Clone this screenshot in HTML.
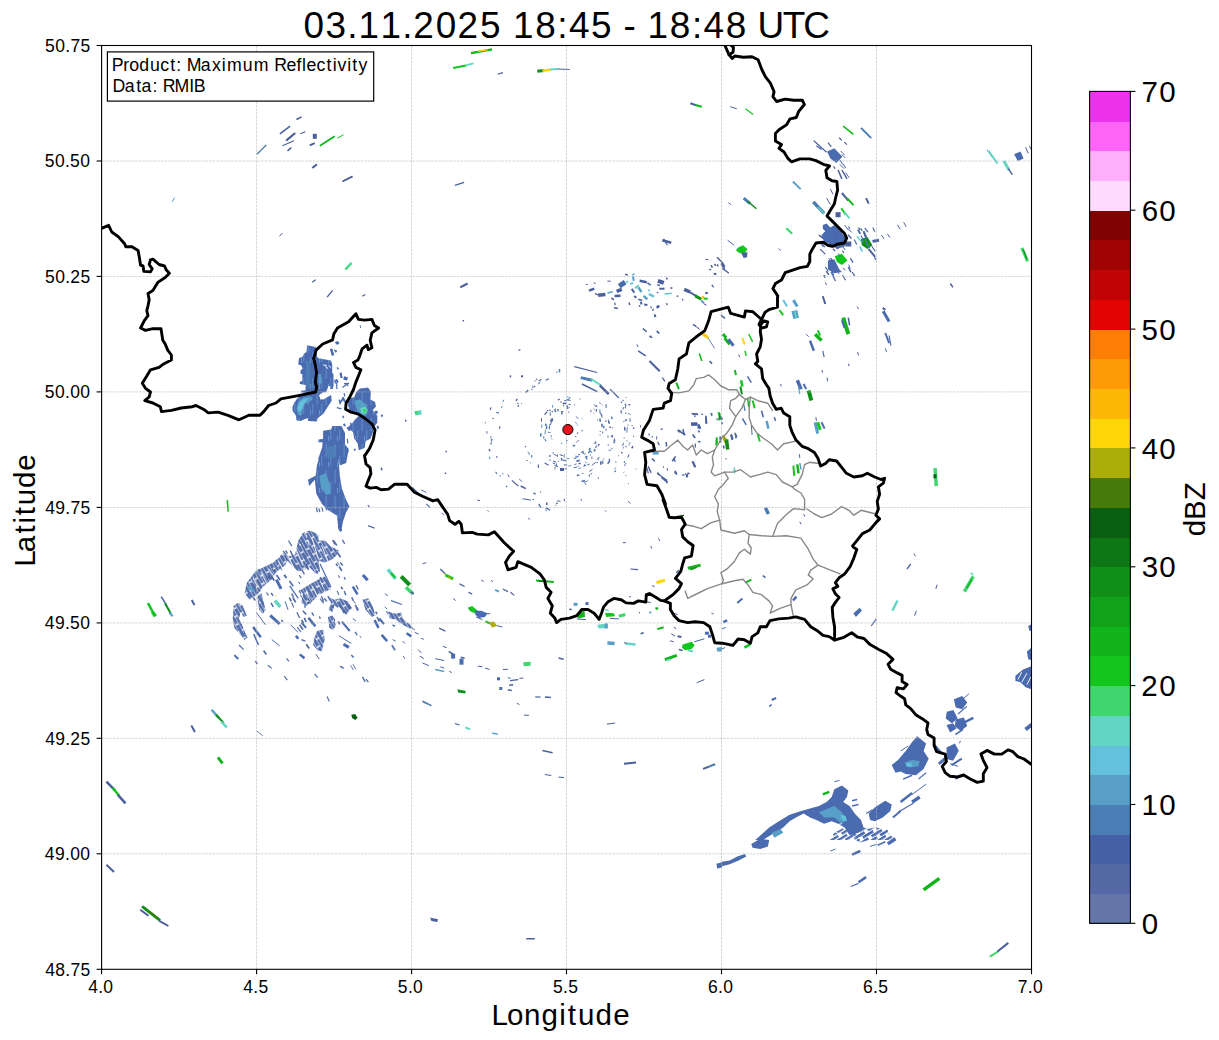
<!DOCTYPE html>
<html><head><meta charset="utf-8"><title>Radar</title>
<style>html,body{margin:0;padding:0;background:#fff;}body{width:1219px;height:1040px;overflow:hidden;}svg{display:block;}text{font-family:"Liberation Sans",sans-serif;fill:#000;}</style>
</head><body>
<svg width="1219" height="1040" viewBox="0 0 1219 1040">
<rect x="0" y="0" width="1219" height="1040" fill="#fff"/>
<defs><clipPath id="ax"><rect x="101.6" y="45.5" width="929.9" height="923.8"/></clipPath>
<pattern id="pSW" patternUnits="userSpaceOnUse" width="15.00" height="6.60" patternTransform="rotate(60.0)"><rect x="0" y="0" width="13.60" height="2.85" fill="#5570ad"/><rect x="7.50" y="3.30" width="7.50" height="2.85" fill="#5570ad"/><rect x="0" y="3.30" width="6.10" height="2.85" fill="#5570ad"/></pattern>
<pattern id="pSE" patternUnits="userSpaceOnUse" width="26.00" height="7.20" patternTransform="rotate(-32.0)"><rect x="0" y="0" width="25.00" height="3.35" fill="#4b6bb0"/><rect x="13.00" y="3.60" width="13.00" height="3.35" fill="#4b6bb0"/><rect x="0" y="3.60" width="12.00" height="3.35" fill="#4b6bb0"/></pattern>
<pattern id="pSE2" patternUnits="userSpaceOnUse" width="16.00" height="7.20" patternTransform="rotate(-32.0)"><rect x="0" y="0" width="12.00" height="2.30" fill="#4b6bb0"/><rect x="8.00" y="3.60" width="8.00" height="2.30" fill="#4b6bb0"/><rect x="0" y="3.60" width="4.00" height="2.30" fill="#4b6bb0"/></pattern>
<pattern id="pV" patternUnits="userSpaceOnUse" width="9" height="26"><rect width="9" height="26" fill="#4b6bb0"/><rect x="1.5" y="2" width="1.3" height="13" fill="#5a86c4"/><rect x="6" y="14" width="1.3" height="10" fill="#5a86c4"/><rect x="4" y="20" width="0.8" height="5" fill="#6c9fd6"/></pattern>
</defs>
<g clip-path="url(#ax)" shape-rendering="auto">
<path d="M256.9 154.2L266.3 145.0" stroke="#4c7db5" stroke-width="1.3" fill="none"/>
<path d="M279.9 133.8L290.1 126.1" stroke="#4a5f9c" stroke-width="1.6" fill="none"/>
<path d="M296.4 119.5L301.6 116.9" stroke="#4a5f9c" stroke-width="1.6" fill="none"/>
<path d="M286.2 140.7L295.2 133.0" stroke="#4a5f9c" stroke-width="2.2" fill="none"/>
<path d="M282.4 145.8L293.9 140.7" stroke="#4a5f9c" stroke-width="1.2" fill="none"/>
<path d="M287.5 150.9L291.3 147.6" stroke="#4a5f9c" stroke-width="1.4" fill="none"/>
<path d="M300.3 133.8L305.4 131.7" stroke="#4a5f9c" stroke-width="1.2" fill="none"/>
<rect x="312.8" y="133.8" width="4.0" height="5.0" fill="#4a5f9c"/>
<path d="M309.7 145.3L314.8 143.2" stroke="#4a5f9c" stroke-width="1.8" fill="none"/>
<path d="M319.9 145.8L334.7 136.3" stroke="#12b41c" stroke-width="1.8" fill="none"/>
<path d="M337.3 138.1L343.6 134.8" stroke="#12c61d" stroke-width="1.0" fill="none"/>
<path d="M312.3 168.0L316.9 164.4" stroke="#4a5f9c" stroke-width="2.0" fill="none"/>
<path d="M342.4 181.5L352.6 176.4" stroke="#4a5f9c" stroke-width="1.8" fill="none"/>
<path d="M172.2 201.9L174.5 197.6" stroke="#589fc8" stroke-width="1.0" fill="none"/>
<path d="M279.4 236.3L282.4 233.0" stroke="#4a5f9c" stroke-width="1.0" fill="none"/>
<path d="M345.4 269.5L351.3 263.1" stroke="#40d56d" stroke-width="2.4" fill="none"/>
<path d="M347.0 267.0L351.6 262.4" stroke="#63d6c3" stroke-width="1.2" fill="none"/>
<path d="M312.3 282.3L315.6 279.7" stroke="#4a5f9c" stroke-width="1.2" fill="none"/>
<path d="M327.1 297.1L332.7 290.4" stroke="#4a5f9c" stroke-width="1.4" fill="none"/>
<path d="M362.3 296.3L365.3 294.5" stroke="#4a5f9c" stroke-width="1.2" fill="none"/>
<path d="M471.0 53.2L492.1 49.3" stroke="#12b41c" stroke-width="2.2" fill="none"/>
<path d="M477.8 51.4L487.5 49.8" stroke="#fdd607" stroke-width="1.2" fill="none"/>
<path d="M453.1 68.0L465.9 65.4" stroke="#12c61d" stroke-width="2.0" fill="none"/>
<path d="M465.9 65.4L473.5 63.4" stroke="#63d6c3" stroke-width="2.0" fill="none"/>
<path d="M497.7 74.3L502.8 72.6" stroke="#4a5f9c" stroke-width="1.2" fill="none"/>
<path d="M537.3 71.3L544.2 70.5" stroke="#0f8f18" stroke-width="3.0" fill="none"/>
<path d="M542.4 70.8L550.6 69.7" stroke="#fdd607" stroke-width="2.6" fill="none"/>
<path d="M550.0 69.5L558.2 69.0" stroke="#63d6c3" stroke-width="2.2" fill="none"/>
<path d="M557.7 69.0L569.7 69.5" stroke="#4a5f9c" stroke-width="1.0" fill="none"/>
<path d="M690.4 103.2L696.0 105.2" stroke="#4a5f9c" stroke-width="2.0" fill="none"/>
<path d="M695.5 105.0L701.8 106.7" stroke="#12b41c" stroke-width="2.0" fill="none"/>
<path d="M454.9 185.3L464.1 182.3" stroke="#4a5f9c" stroke-width="1.4" fill="none"/>
<path d="M460.2 287.4L467.6 283.5" stroke="#4a5f9c" stroke-width="2.2" fill="none"/>
<path d="M662.3 240.2L671.2 242.7" stroke="#4a5f9c" stroke-width="2.6" fill="none"/>
<path d="M663.6 238.9L667.4 245.3" stroke="#4a5f9c" stroke-width="1.2" fill="none"/>
<path d="M589.0 290.7L594.3 288.7" stroke="#4a5f9c" stroke-width="2.5" fill="none"/>
<path d="M585.8 284.4L587.7 284.4" stroke="#4a5f9c" stroke-width="1.0" fill="none"/>
<path d="M593.6 282.8L595.6 283.5" stroke="#4a5f9c" stroke-width="1.0" fill="none"/>
<path d="M598.2 295.3L605.4 294.6" stroke="#4a5f9c" stroke-width="3.5" fill="none"/>
<path d="M594.9 293.6L598.2 294.9" stroke="#4a5f9c" stroke-width="1.2" fill="none"/>
<path d="M607.4 281.2L610.7 281.2" stroke="#4a5f9c" stroke-width="1.0" fill="none"/>
<path d="M607.4 293.1L612.7 291.7" stroke="#589fc8" stroke-width="1.5" fill="none"/>
<path d="M616.6 291.3L621.8 289.4" stroke="#4a5f9c" stroke-width="3.5" fill="none"/>
<path d="M619.2 286.1L625.1 282.2" stroke="#4b6bb0" stroke-width="5.0" fill="none"/>
<path d="M625.8 282.2L628.4 281.5" stroke="#63d6c3" stroke-width="1.5" fill="none"/>
<path d="M614.6 295.9L620.5 295.7" stroke="#4a5f9c" stroke-width="2.5" fill="none"/>
<path d="M611.3 297.9L614.0 299.9" stroke="#4a5f9c" stroke-width="1.5" fill="none"/>
<path d="M614.6 302.5L615.3 305.1" stroke="#4a5f9c" stroke-width="1.2" fill="none"/>
<path d="M614.0 307.8L617.9 308.4" stroke="#4a5f9c" stroke-width="1.5" fill="none"/>
<path d="M629.1 302.5L629.7 305.1" stroke="#4a5f9c" stroke-width="1.5" fill="none"/>
<path d="M625.1 274.3L627.8 274.9" stroke="#4a5f9c" stroke-width="1.5" fill="none"/>
<path d="M633.0 273.9L633.8 274.9" stroke="#589fc8" stroke-width="3.0" fill="none"/>
<path d="M633.0 276.3L633.7 280.8" stroke="#589fc8" stroke-width="2.0" fill="none"/>
<path d="M630.4 284.1L633.0 282.8" stroke="#63c1dc" stroke-width="2.0" fill="none"/>
<path d="M631.7 288.7L634.3 292.7" stroke="#4a5f9c" stroke-width="2.0" fill="none"/>
<path d="M635.0 288.1L638.9 285.4" stroke="#63d6c3" stroke-width="2.0" fill="none"/>
<path d="M638.3 287.4L641.5 292.0" stroke="#589fc8" stroke-width="2.5" fill="none"/>
<path d="M639.6 280.8L646.8 282.2" stroke="#4a5f9c" stroke-width="2.5" fill="none"/>
<path d="M647.4 282.8L650.7 285.2" stroke="#4a5f9c" stroke-width="1.5" fill="none"/>
<path d="M634.3 295.9L636.3 297.9" stroke="#4a5f9c" stroke-width="2.0" fill="none"/>
<path d="M638.3 299.2L642.2 300.5" stroke="#4a5f9c" stroke-width="1.5" fill="none"/>
<path d="M640.9 301.8L641.5 304.5" stroke="#4a5f9c" stroke-width="2.0" fill="none"/>
<path d="M638.9 306.4L640.2 305.8" stroke="#4a5f9c" stroke-width="1.5" fill="none"/>
<path d="M643.5 295.9L647.4 299.2" stroke="#589fc8" stroke-width="2.5" fill="none"/>
<path d="M648.8 294.0L654.0 296.6" stroke="#63c1dc" stroke-width="2.5" fill="none"/>
<path d="M648.5 289.4L649.4 291.3" stroke="#63c1dc" stroke-width="1.5" fill="none"/>
<path d="M644.2 304.5L647.4 305.1" stroke="#4a5f9c" stroke-width="2.0" fill="none"/>
<path d="M650.7 306.4L651.4 308.4" stroke="#4a5f9c" stroke-width="1.2" fill="none"/>
<path d="M652.0 310.4L654.0 309.1" stroke="#4a5f9c" stroke-width="1.2" fill="none"/>
<path d="M654.7 315.0L655.3 316.9" stroke="#4a5f9c" stroke-width="2.0" fill="none"/>
<path d="M656.6 307.8L659.3 305.8" stroke="#4a5f9c" stroke-width="2.5" fill="none"/>
<path d="M657.9 280.8L663.8 282.8" stroke="#4a5f9c" stroke-width="4.0" fill="none"/>
<path d="M666.5 277.6L667.1 279.5" stroke="#4a5f9c" stroke-width="1.5" fill="none"/>
<path d="M657.3 284.8L659.9 285.4" stroke="#4a5f9c" stroke-width="1.5" fill="none"/>
<path d="M659.3 288.7L664.5 288.7" stroke="#4a5f9c" stroke-width="2.0" fill="none"/>
<path d="M670.4 287.8L672.4 288.3" stroke="#4a5f9c" stroke-width="1.5" fill="none"/>
<path d="M657.3 292.0L657.9 293.3" stroke="#4a5f9c" stroke-width="1.5" fill="none"/>
<path d="M664.5 294.0L671.7 293.3" stroke="#63c1dc" stroke-width="1.5" fill="none"/>
<path d="M666.5 303.2L667.1 305.1" stroke="#4a5f9c" stroke-width="1.5" fill="none"/>
<path d="M676.6 295.9L678.3 296.2" stroke="#4a5f9c" stroke-width="1.5" fill="none"/>
<path d="M682.2 298.8L683.1 300.5" stroke="#4a5f9c" stroke-width="1.2" fill="none"/>
<path d="M684.2 289.4L690.1 292.0" stroke="#4a5f9c" stroke-width="3.5" fill="none"/>
<path d="M689.4 292.0L696.0 295.9" stroke="#4a5f9c" stroke-width="2.0" fill="none"/>
<path d="M695.3 295.9L701.3 299.2" stroke="#0f8f18" stroke-width="3.0" fill="none"/>
<path d="M701.9 296.6L703.9 298.6" stroke="#fdd607" stroke-width="2.5" fill="none"/>
<path d="M702.6 295.9L703.4 297.3" stroke="#fdb805" stroke-width="2.0" fill="none"/>
<path d="M703.9 298.6L707.8 298.8" stroke="#12c61d" stroke-width="2.0" fill="none"/>
<path d="M701.3 300.5L703.9 303.2" stroke="#589fc8" stroke-width="2.0" fill="none"/>
<path d="M705.2 293.3L707.8 292.7" stroke="#4a5f9c" stroke-width="2.0" fill="none"/>
<path d="M703.9 303.8L706.5 305.1" stroke="#4a5f9c" stroke-width="1.0" fill="none"/>
<path d="M705.2 259.2L708.5 259.8" stroke="#4a5f9c" stroke-width="1.0" fill="none"/>
<path d="M717.0 257.2L722.3 262.5" stroke="#4a5f9c" stroke-width="1.5" fill="none"/>
<path d="M721.6 263.1L724.2 267.1" stroke="#4a5f9c" stroke-width="3.0" fill="none"/>
<path d="M722.3 268.4L728.8 273.0" stroke="#4a5f9c" stroke-width="1.2" fill="none"/>
<path d="M711.1 265.1L712.4 267.7" stroke="#4a5f9c" stroke-width="1.5" fill="none"/>
<path d="M714.4 263.8L715.7 265.8" stroke="#4a5f9c" stroke-width="1.5" fill="none"/>
<path d="M717.0 264.4L718.3 266.4" stroke="#4a5f9c" stroke-width="1.5" fill="none"/>
<path d="M709.1 269.0L711.1 270.3" stroke="#4a5f9c" stroke-width="1.2" fill="none"/>
<path d="M713.7 273.6L716.3 274.3" stroke="#4a5f9c" stroke-width="2.0" fill="none"/>
<path d="M711.8 284.8L713.7 287.4" stroke="#4a5f9c" stroke-width="1.2" fill="none"/>
<path d="M642.8 328.8L646.8 331.4" stroke="#4a5f9c" stroke-width="1.2" fill="none"/>
<path d="M656.6 331.4L659.3 333.3" stroke="#4a5f9c" stroke-width="1.5" fill="none"/>
<path d="M649.4 336.0L651.4 337.9" stroke="#4a5f9c" stroke-width="1.2" fill="none"/>
<path d="M693.4 324.8L696.0 326.1" stroke="#4a5f9c" stroke-width="1.5" fill="none"/>
<path d="M698.0 327.4L699.3 329.4" stroke="#4a5f9c" stroke-width="1.0" fill="none"/>
<path d="M720.9 315.0L724.9 318.3" stroke="#4a5f9c" stroke-width="1.5" fill="none"/>
<path d="M702.6 334.0L707.8 337.3" stroke="#fdd607" stroke-width="3.0" fill="none"/>
<path d="M703.9 335.3L707.2 336.6" stroke="#fdb805" stroke-width="1.5" fill="none"/>
<path d="M722.9 334.0L726.2 337.9" stroke="#12b41c" stroke-width="3.0" fill="none"/>
<path d="M730.2 106.7L736.8 108.8" stroke="#4a5f9c" stroke-width="1.0" fill="none"/>
<path d="M745.5 108.8L753.1 114.4" stroke="#12c61d" stroke-width="1.2" fill="none"/>
<path d="M843.2 126.1L853.4 134.3" stroke="#12b41c" stroke-width="1.5" fill="none"/>
<path d="M861.0 127.9L871.2 138.1" stroke="#4c7db5" stroke-width="2.0" fill="none"/>
<path d="M813.8 140.7L826.6 152.2" stroke="#4a5f9c" stroke-width="1.2" fill="none"/>
<path d="M816.4 145.8L821.5 149.6" stroke="#4a5f9c" stroke-width="1.2" fill="none"/>
<path d="M838.1 170.0L841.9 178.9" stroke="#4a5f9c" stroke-width="1.5" fill="none"/>
<path d="M841.9 170.0L847.0 178.9" stroke="#4a5f9c" stroke-width="1.5" fill="none"/>
<path d="M845.7 172.6L849.1 177.7" stroke="#4a5f9c" stroke-width="1.0" fill="none"/>
<path d="M792.9 181.5L800.6 189.1" stroke="#589fc8" stroke-width="2.0" fill="none"/>
<path d="M743.7 198.1L750.1 203.7" stroke="#4c7db5" stroke-width="3.0" fill="none"/>
<path d="M747.5 201.1L756.4 208.8" stroke="#0f8f18" stroke-width="1.5" fill="none"/>
<path d="M728.4 202.7L730.9 204.5" stroke="#4a5f9c" stroke-width="1.0" fill="none"/>
<path d="M813.3 201.9L824.1 213.4" stroke="#4c7db5" stroke-width="3.5" fill="none"/>
<path d="M817.7 207.0L824.1 213.4" stroke="#63d6c3" stroke-width="1.5" fill="none"/>
<path d="M841.9 193.0L848.3 200.6" stroke="#4a5f9c" stroke-width="2.0" fill="none"/>
<path d="M847.0 198.1L853.4 205.2" stroke="#12b41c" stroke-width="2.0" fill="none"/>
<path d="M866.1 198.1L868.7 203.7" stroke="#4a5f9c" stroke-width="2.0" fill="none"/>
<path d="M826.6 198.1L830.4 204.5" stroke="#4a5f9c" stroke-width="1.0" fill="none"/>
<path d="M830.4 189.1L833.0 194.2" stroke="#4a5f9c" stroke-width="1.0" fill="none"/>
<path d="M841.4 208.3L845.7 214.7" stroke="#12c61d" stroke-width="2.0" fill="none"/>
<path d="M844.5 212.1L849.6 218.5" stroke="#63d6c3" stroke-width="2.0" fill="none"/>
<path d="M786.3 228.2L792.2 233.8" stroke="#40d56d" stroke-width="2.0" fill="none"/>
<path d="M727.6 240.2L734.2 245.3" stroke="#4a5f9c" stroke-width="1.0" fill="none"/>
<path d="M778.6 248.6L780.7 250.4" stroke="#4a5f9c" stroke-width="1.0" fill="none"/>
<path d="M872.5 241.4L878.9 240.2" stroke="#4a5f9c" stroke-width="3.0" fill="none"/>
<path d="M857.2 236.3L861.0 241.4" stroke="#63d6c3" stroke-width="1.5" fill="none"/>
<path d="M868.7 249.1L875.1 256.8" stroke="#4a5f9c" stroke-width="2.0" fill="none"/>
<path d="M859.8 246.6L862.3 251.7" stroke="#63c1dc" stroke-width="1.5" fill="none"/>
<path d="M863.6 231.2L866.1 237.6" stroke="#4a5f9c" stroke-width="2.0" fill="none"/>
<path d="M881.5 235.1L884.0 238.9" stroke="#4a5f9c" stroke-width="1.0" fill="none"/>
<path d="M887.3 233.8L889.9 237.6" stroke="#4a5f9c" stroke-width="1.0" fill="none"/>
<path d="M897.5 224.9L900.1 229.2" stroke="#4a5f9c" stroke-width="1.0" fill="none"/>
<path d="M903.7 222.3L906.2 226.7" stroke="#4a5f9c" stroke-width="1.0" fill="none"/>
<path d="M818.9 235.1L824.1 238.9" stroke="#4a5f9c" stroke-width="1.5" fill="none"/>
<path d="M820.2 249.1L825.3 254.2" stroke="#4a5f9c" stroke-width="1.2" fill="none"/>
<path d="M848.3 267.0L850.8 272.1" stroke="#4a5f9c" stroke-width="1.5" fill="none"/>
<path d="M852.1 272.1L854.7 275.9" stroke="#4a5f9c" stroke-width="1.2" fill="none"/>
<path d="M833.0 275.9L835.5 281.0" stroke="#4a5f9c" stroke-width="1.2" fill="none"/>
<path d="M825.3 282.3L826.6 284.8" stroke="#4a5f9c" stroke-width="1.0" fill="none"/>
<path d="M822.8 296.3L825.3 304.0" stroke="#4a5f9c" stroke-width="2.0" fill="none"/>
<path d="M783.2 300.1L787.1 306.5" stroke="#63c1dc" stroke-width="2.0" fill="none"/>
<path d="M793.4 300.1L797.3 306.5" stroke="#589fc8" stroke-width="3.0" fill="none"/>
<path d="M722.0 261.9L724.6 269.5" stroke="#4a5f9c" stroke-width="1.5" fill="none"/>
<path d="M724.6 269.5L728.4 273.3" stroke="#4a5f9c" stroke-width="1.0" fill="none"/>
<path d="M950.3 283.5L952.9 287.4" stroke="#4a5f9c" stroke-width="1.5" fill="none"/>
<path d="M882.7 307.8L885.3 310.1" stroke="#4a5f9c" stroke-width="2.0" fill="none"/>
<path d="M857.2 306.5L858.5 309.1" stroke="#4a5f9c" stroke-width="1.0" fill="none"/>
<path d="M987.3 150.1L992.4 157.3" stroke="#4a5f9c" stroke-width="1.0" fill="none"/>
<path d="M988.6 150.9L997.5 163.6" stroke="#63d6c3" stroke-width="2.0" fill="none"/>
<path d="M1003.9 161.1L1009.0 170.0" stroke="#63d6c3" stroke-width="3.0" fill="none"/>
<path d="M1008.3 168.7L1012.3 174.6" stroke="#4a5f9c" stroke-width="1.5" fill="none"/>
<path d="M1025.6 147.1L1028.2 153.4" stroke="#4a5f9c" stroke-width="1.0" fill="none"/>
<path d="M1029.4 145.8L1031.2 149.6" stroke="#4a5f9c" stroke-width="1.0" fill="none"/>
<path d="M1021.8 247.8L1027.6 261.3" stroke="#40d56d" stroke-width="3.0" fill="none"/>
<path d="M1023.1 249.1L1026.9 259.3" stroke="#0f8f18" stroke-width="1.2" fill="none"/>
<path d="M827.1 151.6L834.3 148.3L842.4 156.7L836.3 162.9L830.4 158.5Z" fill="#4b6bb0"/>
<rect x="835.6" y="212.2" width="5.0" height="5.0" fill="#4a5f9c"/>
<path d="M737.8 247.8L742.9 245.3L747.5 249.1L744.5 253.7L739.3 252.9L736.0 250.4Z" fill="#12c61d"/>
<path d="M741.1 252.9L747.5 252.2L747.0 257.3L743.7 258.0Z" fill="#4a5f9c"/>
<path d="M822.8 224.9L826.6 223.6L830.4 227.4L834.3 224.9L839.4 228.7L843.2 235.1L847.0 238.9L844.5 246.6L836.8 249.1L830.4 244.0L824.1 241.4L821.5 235.1L825.3 231.2L822.8 228.7Z" fill="#4b6bb0"/>
<rect x="845.3" y="241.5" width="6.0" height="5.0" fill="#4a5f9c"/>
<path d="M861.0 238.9L867.4 236.9L872.5 245.3L867.4 249.1L861.8 245.3Z" fill="#0f8f18"/>
<path d="M834.8 256.2L841.9 253.7L847.5 260.6L841.9 264.9L836.8 261.9Z" fill="#12c61d"/>
<path d="M827.9 260.6L834.3 259.3L839.4 269.5L841.9 272.1L834.3 273.3L827.9 269.5Z" fill="#4b6bb0"/>
<path d="M1014.1 154.2L1020.5 151.6L1023.6 158.5L1017.9 161.1Z" fill="#4b6bb0"/>
<path d="M307.2 345.2L313.4 346.4L316.3 347.6L317.1 357.1L318.7 358.3L331.0 360.4L332.2 364.5L332.2 372.7L333.5 374.3L333.5 385.8L332.7 389.1L330.2 389.1L330.2 386.6L328.6 385.8L326.1 392.3L322.8 392.3L321.2 394.8L317.9 394.8L301.1 392.3L301.1 390.7L305.6 390.3L305.6 385.0L299.8 384.1L299.8 381.7L302.3 380.9L302.3 374.3L300.3 373.5L300.7 370.2L302.7 368.6L301.1 365.3L298.2 364.5L299.0 357.9L302.3 357.1L303.9 353.8L306.4 352.1Z" fill="url(#pV)"/>
<path d="M306.0 361.2L309.7 360.4L310.5 372.7L309.3 387.4L306.4 387.4L305.6 374.3Z" fill="#4c7db5"/>
<path d="M318.3 374.3L321.2 373.9L321.6 383.3L318.7 384.1Z" fill="#589fc8"/>
<path d="M337.2 341.5L338.8 343.5" stroke="#4b6bb0" stroke-width="1.5" fill="none"/>
<path d="M331.7 348.9L332.5 354.6" stroke="#4b6bb0" stroke-width="1.5" fill="none"/>
<path d="M334.3 349.7L335.9 352.1" stroke="#4b6bb0" stroke-width="1.2" fill="none"/>
<path d="M340.9 372.7L341.7 378.0" stroke="#4b6bb0" stroke-width="1.5" fill="none"/>
<path d="M343.7 378.4L347.4 379.2" stroke="#4b6bb0" stroke-width="2.5" fill="none"/>
<path d="M344.1 383.7L349.1 383.3" stroke="#4b6bb0" stroke-width="1.2" fill="none"/>
<path d="M335.9 379.2L338.0 382.5" stroke="#4b6bb0" stroke-width="2.0" fill="none"/>
<path d="M336.6 382.5L336.9 389.1" stroke="#4b6bb0" stroke-width="1.2" fill="none"/>
<path d="M344.1 393.2L344.8 396.4" stroke="#4b6bb0" stroke-width="1.2" fill="none"/>
<path d="M340.5 402.2L343.3 398.1" stroke="#4b6bb0" stroke-width="1.8" fill="none"/>
<path d="M337.2 367.3L338.4 369.4" stroke="#4b6bb0" stroke-width="1.5" fill="none"/>
<path d="M342.5 387.4L345.8 385.0" stroke="#4b6bb0" stroke-width="1.2" fill="none"/>
<g stroke="#fff" stroke-width="1" fill="none">
<path d="M323.2 364.9L326.5 365.4"/>
<path d="M325.4 366.5L328.1 368.6"/>
<path d="M328.6 365.3L331.0 367.7"/>
<path d="M332.7 368.6L335.9 369.4"/>
</g>
<path d="M296.5 399.6L300.0 395.0L308.1 392.7L318.4 392.7L319.6 397.3L323.1 399.6L331.1 395.0L331.7 400.7L329.4 404.2L326.5 408.8L323.6 413.4L320.8 415.7L317.9 418.0L316.7 421.5L308.1 420.9L307.5 418.0L300.6 420.9L296.5 420.4L296.0 415.7L292.5 411.1L292.5 406.5L294.2 403.1Z" fill="url(#pV)"/>
<path d="M298.3 401.9L303.5 397.3L312.1 396.7L312.7 399.6L304.6 404.2L302.3 410.0L300.6 415.7L297.7 414.6L296.5 408.8Z" fill="#589fc8"/>
<path d="M298.8 403.1L303.5 399.6L308.1 398.4L304.0 403.6L302.3 408.8L299.4 412.3L297.7 408.8Z" fill="#63c1dc"/>
<path d="M313.8 404.2L316.1 403.1L316.7 415.7L313.8 418.0Z" fill="url(#pV)"/>
<path d="M320.2 393.8L324.8 393.2L324.8 399.0L320.2 399.6Z" fill="#fff"/>
<path d="M356.5 391.5L360.0 388.6L368.0 387.5L370.9 391.5L370.4 399.6L375.0 401.9L376.1 406.5L372.7 410.0L377.3 415.7L377.3 422.7L373.8 427.3L372.7 433.0L370.4 438.8L365.7 441.1L364.6 448.0L358.8 450.3L357.7 443.4L354.2 438.8L353.1 431.9L349.6 429.6L347.9 427.3L351.9 423.8L354.2 420.4L358.8 415.7L349.6 410.0L347.9 405.4L347.3 399.6L349.6 397.9L354.2 397.3Z" fill="url(#pV)"/>
<path d="M354.2 400.7L360.0 399.6L365.7 404.2L368.0 410.0L365.7 415.7L360.5 414.6L356.5 408.8Z" fill="#589fc8"/>
<path d="M360.5 407.7L365.7 407.1L367.5 411.1L365.7 414.0L361.1 412.9Z" fill="#63d6c3"/>
<path d="M362.5 409.4L366.3 408.8L366.9 412.0L363.7 412.9Z" fill="#40d56d"/>
<rect x="374.6" y="410.8" width="3.0" height="3.0" fill="#4b6bb0"/>
<rect x="380.9" y="414.7" width="2.0" height="2.0" fill="#4b6bb0"/>
<rect x="376.8" y="425.8" width="2.0" height="3.0" fill="#4b6bb0"/>
<path d="M323.1 430.7L331.1 429.6L332.3 426.1L341.5 426.1L345.0 433.0L345.0 445.7L348.4 449.2L348.4 452.6L342.7 455.0L321.9 455.0L322.5 442.3L318.4 442.3L318.4 439.4L323.1 438.8Z" fill="url(#pV)"/>
<path d="M331.1 348.8L332.9 355.8" stroke="#4b6bb0" stroke-width="2.0" fill="none"/>
<path d="M335.7 341.9L337.5 344.2" stroke="#4b6bb0" stroke-width="2.0" fill="none"/>
<path d="M335.7 350.0L336.3 352.3" stroke="#4b6bb0" stroke-width="1.5" fill="none"/>
<path d="M340.4 373.1L341.5 377.7" stroke="#4b6bb0" stroke-width="2.0" fill="none"/>
<path d="M343.8 377.7L347.3 378.8" stroke="#4b6bb0" stroke-width="3.0" fill="none"/>
<path d="M345.0 383.4L348.4 385.7" stroke="#4b6bb0" stroke-width="1.5" fill="none"/>
<path d="M334.6 380.0L335.7 383.4" stroke="#4b6bb0" stroke-width="1.5" fill="none"/>
<path d="M342.7 397.3L345.0 401.9" stroke="#4b6bb0" stroke-width="2.0" fill="none"/>
<path d="M339.2 399.6L340.4 404.2" stroke="#4b6bb0" stroke-width="1.5" fill="none"/>
<path d="M336.9 407.7L341.5 408.8" stroke="#4b6bb0" stroke-width="1.2" fill="none"/>
<path d="M342.7 415.7L343.8 418.0" stroke="#4b6bb0" stroke-width="1.5" fill="none"/>
<path d="M343.8 423.8L345.0 426.1" stroke="#4b6bb0" stroke-width="2.0" fill="none"/>
<path d="M347.3 427.3L349.6 430.7" stroke="#4b6bb0" stroke-width="2.0" fill="none"/>
<path d="M350.7 422.7L351.3 426.1" stroke="#4b6bb0" stroke-width="1.5" fill="none"/>
<path d="M354.2 449.2L355.4 450.3" stroke="#4b6bb0" stroke-width="2.0" fill="none"/>
<path d="M347.3 438.8L347.9 443.4" stroke="#4b6bb0" stroke-width="1.2" fill="none"/>
<path d="M322.0 447.8L343.6 442.7L348.7 449.0L346.2 463.1L339.8 465.6L338.5 459.2L324.5 460.5L318.1 459.2Z" fill="url(#pV)"/>
<path d="M319.4 456.7L338.5 458.0L339.8 475.8L341.9 488.6L346.2 500.1L349.5 506.4L346.2 512.1L342.9 521.8L341.1 532.0L338.5 529.4L336.8 515.4L328.3 510.3L322.0 503.9L316.3 493.7L314.8 479.7L309.2 486.0L307.9 479.7L315.6 475.8L316.9 465.6Z" fill="url(#pV)"/>
<path d="M319.4 475.8L325.8 473.3L329.6 483.5L330.9 493.7L325.8 495.0L320.7 486.0Z" fill="#589fc8"/>
<path d="M325.8 447.8L333.4 445.2L336.0 456.7L328.3 459.2Z" fill="#4c7db5"/>
<path d="M227.3 500.1L228.1 511.6" stroke="#12b41c" stroke-width="1.5" fill="none"/>
<path d="M316.3 507.7L317.4 512.1" stroke="#4b6bb0" stroke-width="1.2" fill="none"/>
<path d="M318.9 508.5L319.9 512.1" stroke="#4b6bb0" stroke-width="1.2" fill="none"/>
<path d="M322.0 507.7L323.0 511.6" stroke="#4b6bb0" stroke-width="1.2" fill="none"/>
<path d="M325.8 507.0L326.6 510.3" stroke="#4b6bb0" stroke-width="1.2" fill="none"/>
<path d="M367.9 505.2L369.2 507.0" stroke="#4a5f9c" stroke-width="1.2" fill="none"/>
<path d="M367.9 525.6L374.3 528.1" stroke="#4a5f9c" stroke-width="1.0" fill="none"/>
<path d="M405.4 419.7L406.2 421.7" stroke="#4a5f9c" stroke-width="1.2" fill="none"/>
<path d="M381.2 467.7L381.9 470.2" stroke="#4a5f9c" stroke-width="1.5" fill="none"/>
<path d="M360.2 325.3L360.7 327.9" stroke="#4b6bb0" stroke-width="1.0" fill="none"/>
<path d="M330.9 349.5L333.4 354.6" stroke="#4b6bb0" stroke-width="2.0" fill="none"/>
<path d="M337.3 341.9L338.5 344.4" stroke="#4b6bb0" stroke-width="1.5" fill="none"/>
<path d="M302.9 532.8L309.9 530.5L318.5 534.4L318.5 540.6L324.8 540.6L331.0 546.8L338.8 549.9L337.2 554.6L332.5 559.3L324.8 562.4L318.5 560.8L320.1 571.8L315.4 573.3L309.2 567.1L302.9 570.2L298.3 571.8L292.0 565.5L287.3 560.8L285.0 565.5L276.4 571.8L271.8 579.6L262.4 587.3L258.5 593.6L249.9 599.8L244.5 593.6L246.8 582.7L256.2 570.2L264.0 567.1L273.3 562.4L284.2 552.3L288.9 556.2L295.1 554.6L298.3 540.6Z" fill="url(#pSW)"/>
<path d="M309.9 584.2L318.5 579.6L324.8 576.4L329.4 584.2L331.0 588.9L324.8 592.0L318.5 595.1L312.3 601.4L306.1 606.1L301.4 602.9L302.9 593.6L299.8 590.5Z" fill="url(#pSW)"/>
<path d="M257.0 595.1L261.6 593.6L265.5 609.2L263.2 613.8L259.3 610.7Z" fill="url(#pSW)"/>
<path d="M233.6 606.1L237.5 602.9L242.1 604.5L246.8 615.4L243.7 617.0L240.6 612.3L239.0 618.5L242.1 624.8L246.8 637.2L244.5 640.3L239.8 634.1L234.4 627.9L232.8 618.5Z" fill="url(#pSW)"/>
<path d="M327.9 596.7L334.1 599.8L340.3 598.3L348.1 601.4L351.3 607.6L348.1 612.3L343.5 613.8L340.3 607.6L334.1 606.1L332.5 612.3L328.7 609.9L331.0 602.9Z" fill="url(#pSW)"/>
<path d="M362.2 599.8L368.4 598.3L373.1 607.6L375.4 615.4L371.5 617.0L365.3 609.2Z" fill="url(#pSW)"/>
<path d="M385.5 610.7L390.2 612.3L396.5 613.8L401.1 612.3L402.7 618.5L412.0 626.3L410.5 628.7L402.7 624.8L396.5 620.1L390.2 618.5Z" fill="url(#pSW)"/>
<path d="M317.0 631.0L323.2 629.4L324.8 640.3L321.6 651.3L317.7 650.5L313.1 645.0L314.6 637.2Z" fill="url(#pSW)"/>
<path d="M327.9 617.0L332.5 615.4L335.7 624.8L334.1 630.2L329.4 627.9Z" fill="url(#pSW)"/>
<path d="M270.2 615.4L279.6 624.0" stroke="#4b6bb0" stroke-width="3.0" fill="none"/>
<path d="M253.1 627.1L260.8 637.2" stroke="#4b6bb0" stroke-width="2.5" fill="none"/>
<path d="M253.8 634.1L258.5 645.0" stroke="#4b6bb0" stroke-width="1.5" fill="none"/>
<path d="M301.4 622.4L306.1 627.9" stroke="#4b6bb0" stroke-width="2.0" fill="none"/>
<path d="M308.4 617.7L315.4 626.3" stroke="#4b6bb0" stroke-width="2.5" fill="none"/>
<path d="M341.9 621.6L349.7 631.0" stroke="#4b6bb0" stroke-width="2.0" fill="none"/>
<path d="M343.5 644.2L348.9 647.4" stroke="#4b6bb0" stroke-width="3.0" fill="none"/>
<path d="M338.8 635.7L351.3 643.5" stroke="#4b6bb0" stroke-width="1.0" fill="none"/>
<path d="M295.9 635.7L298.3 638.8" stroke="#4b6bb0" stroke-width="2.5" fill="none"/>
<path d="M301.4 639.6L305.3 641.1" stroke="#4b6bb0" stroke-width="1.5" fill="none"/>
<path d="M299.8 654.4L304.5 658.3" stroke="#4b6bb0" stroke-width="2.5" fill="none"/>
<path d="M286.6 658.3L288.9 661.4" stroke="#4b6bb0" stroke-width="1.2" fill="none"/>
<path d="M267.9 665.3L271.8 668.4" stroke="#4b6bb0" stroke-width="1.2" fill="none"/>
<path d="M284.2 676.2L287.3 680.1" stroke="#4b6bb0" stroke-width="1.2" fill="none"/>
<path d="M314.6 673.9L317.7 677.7" stroke="#4b6bb0" stroke-width="1.2" fill="none"/>
<path d="M340.3 666.1L343.5 668.4" stroke="#4b6bb0" stroke-width="1.5" fill="none"/>
<path d="M351.3 655.1L353.6 657.5" stroke="#4b6bb0" stroke-width="1.5" fill="none"/>
<path d="M234.4 655.1L238.2 659.0" stroke="#4b6bb0" stroke-width="2.0" fill="none"/>
<path d="M239.0 645.0L243.7 649.7" stroke="#4b6bb0" stroke-width="1.2" fill="none"/>
<path d="M271.8 639.6L279.6 645.8" stroke="#4b6bb0" stroke-width="1.0" fill="none"/>
<path d="M290.5 624.8L298.3 632.5" stroke="#4b6bb0" stroke-width="1.0" fill="none"/>
<path d="M289.7 585.8L298.3 598.3" stroke="#4b6bb0" stroke-width="1.2" fill="none"/>
<path d="M284.2 574.9L286.6 578.0" stroke="#4b6bb0" stroke-width="2.0" fill="none"/>
<path d="M276.4 579.6L281.1 588.9" stroke="#4b6bb0" stroke-width="3.0" fill="none"/>
<path d="M271.0 602.9L273.3 606.8" stroke="#4b6bb0" stroke-width="1.5" fill="none"/>
<path d="M285.0 601.4L288.1 609.9" stroke="#4b6bb0" stroke-width="1.0" fill="none"/>
<path d="M302.9 610.7L306.1 614.6" stroke="#4b6bb0" stroke-width="1.5" fill="none"/>
<path d="M352.8 586.6L357.5 594.4" stroke="#4b6bb0" stroke-width="2.5" fill="none"/>
<path d="M362.9 574.9L367.6 580.3" stroke="#4b6bb0" stroke-width="3.0" fill="none"/>
<path d="M340.3 562.4L342.7 565.5" stroke="#4b6bb0" stroke-width="1.5" fill="none"/>
<path d="M338.8 525.8L341.1 531.2" stroke="#4b6bb0" stroke-width="2.5" fill="none"/>
<path d="M368.4 525.8L374.6 528.1" stroke="#4b6bb0" stroke-width="1.0" fill="none"/>
<path d="M374.6 620.1L378.5 627.9" stroke="#4b6bb0" stroke-width="2.5" fill="none"/>
<path d="M379.3 618.5L384.0 624.0" stroke="#4b6bb0" stroke-width="2.0" fill="none"/>
<path d="M381.6 634.9L387.1 641.1" stroke="#4b6bb0" stroke-width="2.5" fill="none"/>
<path d="M392.6 639.6L395.7 641.1" stroke="#4b6bb0" stroke-width="1.0" fill="none"/>
<path d="M402.7 641.1L405.0 643.5" stroke="#4b6bb0" stroke-width="1.0" fill="none"/>
<path d="M406.6 633.3L411.3 636.4" stroke="#4b6bb0" stroke-width="2.5" fill="none"/>
<path d="M392.6 624.8L394.9 626.3" stroke="#4b6bb0" stroke-width="1.5" fill="none"/>
<path d="M391.0 600.6L401.9 604.5" stroke="#4b6bb0" stroke-width="1.2" fill="none"/>
<path d="M384.8 593.6L387.9 595.9" stroke="#4b6bb0" stroke-width="1.0" fill="none"/>
<path d="M384.8 606.8L387.1 609.2" stroke="#4b6bb0" stroke-width="1.0" fill="none"/>
<path d="M352.8 618.5L355.9 620.9" stroke="#4b6bb0" stroke-width="1.0" fill="none"/>
<path d="M256.2 612.3L265.5 624.8" stroke="#4b6bb0" stroke-width="1.0" fill="none"/>
<path d="M320.1 564.0L331.0 587.3" stroke="#4b6bb0" stroke-width="1.2" fill="none"/>
<g stroke="#fff" stroke-width="0.9" fill="none">
<path d="M293.6 543.7L302.9 565.5"/>
<path d="M287.3 554.6L295.1 570.2"/>
<path d="M278.0 560.8L284.2 571.8"/>
<path d="M268.6 568.6L274.9 578.0"/>
<path d="M312.3 539.0L318.5 559.3"/>
<path d="M321.6 545.3L327.9 560.8"/>
<path d="M260.8 571.8L267.1 584.2"/>
<path d="M253.1 578.0L259.3 590.5"/>
<path d="M306.1 534.4L309.2 545.3"/>
<path d="M312.3 585.8L318.5 598.3"/>
<path d="M320.1 581.1L324.8 590.5"/>
<path d="M306.1 590.5L310.7 602.9"/>
</g>
<path d="M274.9 600.6L280.3 606.8" stroke="#63d6c3" stroke-width="3.5" fill="none"/>
<path d="M248.4 586.6L253.8 591.2" stroke="#589fc8" stroke-width="3.0" fill="none"/>
<rect x="275.1" y="595.3" width="1.2" height="1.2" fill="#fdd607"/>
<path d="M387.9 569.4L395.7 578.8" stroke="#63d6c3" stroke-width="3.5" fill="none"/>
<path d="M391.0 573.3L394.9 577.2" stroke="#12c61d" stroke-width="2.0" fill="none"/>
<path d="M401.1 576.4L409.7 585.0" stroke="#0f8f18" stroke-width="4.0" fill="none"/>
<path d="M405.8 587.3L412.8 593.6" stroke="#40d56d" stroke-width="3.5" fill="none"/>
<path d="M148.0 603.1L154.9 615.8" stroke="#12c61d" stroke-width="2.5" fill="none"/>
<path d="M152.3 612.0L155.6 616.3" stroke="#12c61d" stroke-width="3.5" fill="none"/>
<path d="M161.2 596.7L166.8 605.6" stroke="#4a5f9c" stroke-width="1.5" fill="none"/>
<path d="M165.1 603.6L170.9 613.8" stroke="#0f8f18" stroke-width="2.0" fill="none"/>
<path d="M169.4 612.8L172.7 616.3" stroke="#589fc8" stroke-width="2.0" fill="none"/>
<path d="M191.8 600.0L194.4 605.1" stroke="#4a5f9c" stroke-width="2.0" fill="none"/>
<path d="M211.7 709.7L218.6 717.9" stroke="#589fc8" stroke-width="2.5" fill="none"/>
<path d="M216.1 714.8L223.7 723.0" stroke="#0f8f18" stroke-width="2.0" fill="none"/>
<path d="M221.2 721.7L226.8 727.3" stroke="#63d6c3" stroke-width="2.5" fill="none"/>
<path d="M191.3 725.5L194.9 731.9" stroke="#4a5f9c" stroke-width="2.0" fill="none"/>
<path d="M256.9 731.1L262.8 735.7" stroke="#4a5f9c" stroke-width="0.8" fill="none"/>
<path d="M217.9 757.4L222.5 763.3" stroke="#12b41c" stroke-width="3.0" fill="none"/>
<path d="M106.4 781.7L115.3 790.6" stroke="#4a5f9c" stroke-width="2.5" fill="none"/>
<path d="M112.8 788.0L119.1 795.7" stroke="#12c61d" stroke-width="2.5" fill="none"/>
<path d="M117.9 794.9L125.5 803.3" stroke="#4a5f9c" stroke-width="2.5" fill="none"/>
<path d="M351.3 714.8L355.1 714.0L357.7 717.9L355.1 719.9L352.1 717.9Z" fill="#0a5f10"/>
<g fill="none">
<path d="M549.6 424.4L549.6 427.9" stroke="#4c7db5" stroke-width="0.9"/>
<path d="M547.6 410.0L547.6 411.2" stroke="#5469a6" stroke-width="1.5"/>
<path d="M551.2 435.2L551.2 437.2" stroke="#5a6fa6" stroke-width="0.9"/>
<path d="M551.9 411.9L552.7 411.2" stroke="#4a5f9c" stroke-width="1.5"/>
<path d="M568.7 411.5L568.7 412.7" stroke="#4a5f9c" stroke-width="1.0"/>
<path d="M550.3 412.2L550.3 415.7" stroke="#4c7db5" stroke-width="1.0"/>
<path d="M543.8 436.2L543.8 438.7" stroke="#5469a6" stroke-width="1.0"/>
<path d="M554.8 411.9L556.0 411.0" stroke="#4c7db5" stroke-width="1.5"/>
<path d="M541.6 427.9L542.0 424.4" stroke="#4c7db5" stroke-width="0.9"/>
<path d="M544.7 415.0L546.8 412.1" stroke="#4a5f9c" stroke-width="0.9"/>
<path d="M552.4 418.2L552.4 419.7" stroke="#5469a6" stroke-width="1.5"/>
<path d="M546.0 441.3L544.9 439.1" stroke="#4c7db5" stroke-width="1.2"/>
<path d="M553.9 410.1L556.0 408.7" stroke="#4a5f9c" stroke-width="0.9"/>
<path d="M567.3 405.2L567.3 408.7" stroke="#5469a6" stroke-width="1.2"/>
<path d="M546.4 429.2L546.7 425.8" stroke="#4c7db5" stroke-width="1.5"/>
<path d="M549.9 432.0L549.9 433.0" stroke="#5a6fa6" stroke-width="1.2"/>
<path d="M558.0 409.3L558.0 411.3" stroke="#5469a6" stroke-width="1.5"/>
<path d="M545.9 413.1L547.2 411.6" stroke="#5469a6" stroke-width="1.2"/>
<path d="M568.6 404.4L570.6 404.5" stroke="#4a5f9c" stroke-width="1.0"/>
<path d="M548.5 431.7L548.5 432.9" stroke="#4c7db5" stroke-width="1.0"/>
<path d="M549.3 429.1L549.5 426.6" stroke="#5a6fa6" stroke-width="1.2"/>
<path d="M554.2 411.0L556.3 409.6" stroke="#5469a6" stroke-width="0.9"/>
<path d="M562.9 403.7L566.4 403.2" stroke="#5469a6" stroke-width="1.5"/>
<path d="M550.3 425.0L551.5 421.8" stroke="#4a5f9c" stroke-width="1.0"/>
<path d="M568.8 407.3L569.8 407.4" stroke="#4a5f9c" stroke-width="0.9"/>
<path d="M552.1 439.4L551.6 438.6" stroke="#4a5f9c" stroke-width="0.9"/>
<path d="M563.0 405.8L564.2 405.5" stroke="#4c7db5" stroke-width="1.2"/>
<path d="M551.6 421.5L552.6 419.7" stroke="#5469a6" stroke-width="1.5"/>
<path d="M552.3 420.9L552.8 420.0" stroke="#5469a6" stroke-width="1.2"/>
<path d="M562.8 410.9L562.8 411.9" stroke="#5a6fa6" stroke-width="1.2"/>
<path d="M552.6 405.1L552.6 407.6" stroke="#4c7db5" stroke-width="0.9"/>
<path d="M544.8 414.3L545.6 413.1" stroke="#5a6fa6" stroke-width="1.2"/>
<path d="M549.5 410.8L550.4 409.9" stroke="#5a6fa6" stroke-width="1.5"/>
<path d="M545.3 429.9L545.3 433.4" stroke="#4c7db5" stroke-width="0.9"/>
<path d="M550.6 421.3L551.8 419.1" stroke="#4c7db5" stroke-width="1.5"/>
<path d="M567.9 407.6L567.9 408.8" stroke="#5a6fa6" stroke-width="1.5"/>
<path d="M545.6 426.0L546.1 423.6" stroke="#4c7db5" stroke-width="1.5"/>
<path d="M561.9 410.9L561.9 414.4" stroke="#5a6fa6" stroke-width="1.5"/>
<path d="M550.6 421.6L552.3 418.6" stroke="#5469a6" stroke-width="1.5"/>
<path d="M541.5 418.1L541.5 421.6" stroke="#4a5f9c" stroke-width="1.0"/>
<path d="M540.8 433.2L540.8 436.7" stroke="#4c7db5" stroke-width="1.5"/>
<path d="M544.9 433.4L544.9 434.4" stroke="#5a6fa6" stroke-width="0.9"/>
<path d="M567.8 396.3L567.8 397.5" stroke="#4c7db5" stroke-width="1.0"/>
<path d="M569.5 397.2L569.5 398.7" stroke="#5a6fa6" stroke-width="1.5"/>
<path d="M557.8 399.9L559.7 399.3" stroke="#5a6fa6" stroke-width="1.5"/>
<path d="M569.6 400.4L570.6 400.5" stroke="#4a5f9c" stroke-width="1.0"/>
<path d="M574.1 404.8L575.2 405.1" stroke="#4a5f9c" stroke-width="0.9"/>
<path d="M564.1 400.7L566.6 400.4" stroke="#4a5f9c" stroke-width="0.9"/>
<path d="M563.5 403.2L564.5 403.1" stroke="#4a5f9c" stroke-width="0.9"/>
<path d="M566.8 399.5L569.3 399.5" stroke="#4c7db5" stroke-width="1.0"/>
<path d="M567.3 400.3L569.3 400.3" stroke="#4c7db5" stroke-width="1.0"/>
<path d="M579.6 398.7L580.7 399.2" stroke="#5469a6" stroke-width="1.0"/>
<path d="M560.5 402.2L561.5 402.0" stroke="#4a5f9c" stroke-width="1.5"/>
<path d="M562.7 403.1L563.7 402.9" stroke="#4c7db5" stroke-width="1.0"/>
<path d="M584.7 464.2L584.7 466.2" stroke="#5469a6" stroke-width="0.9"/>
<path d="M556.8 455.7L553.7 454.2" stroke="#5469a6" stroke-width="1.0"/>
<path d="M549.9 455.0L549.9 457.0" stroke="#4a5f9c" stroke-width="1.2"/>
<path d="M562.3 455.3L559.8 454.6" stroke="#5469a6" stroke-width="0.9"/>
<path d="M576.6 464.0L574.1 464.5" stroke="#5a6fa6" stroke-width="0.9"/>
<path d="M553.1 452.0L553.1 453.5" stroke="#4c7db5" stroke-width="1.0"/>
<path d="M558.0 466.6L554.7 465.5" stroke="#5469a6" stroke-width="1.2"/>
<path d="M585.8 465.3L583.5 466.3" stroke="#4a5f9c" stroke-width="1.2"/>
<path d="M578.8 466.1L577.7 466.4" stroke="#4c7db5" stroke-width="0.9"/>
<path d="M550.0 459.4L550.0 460.9" stroke="#4a5f9c" stroke-width="1.0"/>
<path d="M576.5 456.1L575.5 456.4" stroke="#4c7db5" stroke-width="1.5"/>
<path d="M564.2 454.2L564.2 457.7" stroke="#5a6fa6" stroke-width="0.9"/>
<path d="M577.1 456.9L575.6 457.3" stroke="#4c7db5" stroke-width="1.0"/>
<path d="M571.2 465.6L569.7 465.7" stroke="#4c7db5" stroke-width="0.9"/>
<path d="M583.2 451.1L581.1 452.5" stroke="#5469a6" stroke-width="1.0"/>
<path d="M579.8 460.2L576.4 461.3" stroke="#5469a6" stroke-width="1.5"/>
<path d="M567.1 468.9L564.6 468.8" stroke="#5a6fa6" stroke-width="1.0"/>
<path d="M577.2 467.0L573.7 467.7" stroke="#5469a6" stroke-width="1.0"/>
<path d="M545.2 462.7L545.2 463.9" stroke="#5469a6" stroke-width="1.2"/>
<path d="M579.9 454.2L578.1 455.0" stroke="#5a6fa6" stroke-width="1.2"/>
<path d="M561.9 454.9L561.9 456.1" stroke="#4a5f9c" stroke-width="1.5"/>
<path d="M580.8 468.0L578.4 468.7" stroke="#4c7db5" stroke-width="0.9"/>
<path d="M578.5 456.4L577.1 456.9" stroke="#4c7db5" stroke-width="1.5"/>
<path d="M569.3 458.6L566.8 458.6" stroke="#4c7db5" stroke-width="0.9"/>
<path d="M557.5 454.4L557.5 456.9" stroke="#4c7db5" stroke-width="0.9"/>
<path d="M576.3 458.0L573.9 458.5" stroke="#5469a6" stroke-width="1.0"/>
<path d="M556.4 463.5L556.4 465.5" stroke="#4a5f9c" stroke-width="1.0"/>
<path d="M555.1 464.0L552.8 463.0" stroke="#4a5f9c" stroke-width="1.0"/>
<path d="M556.2 462.3L553.0 461.0" stroke="#4a5f9c" stroke-width="1.0"/>
<path d="M583.9 452.7L582.6 453.5" stroke="#5469a6" stroke-width="1.5"/>
<path d="M567.3 465.1L563.8 464.8" stroke="#5469a6" stroke-width="1.0"/>
<path d="M577.9 461.0L577.0 461.2" stroke="#4a5f9c" stroke-width="0.9"/>
<path d="M558.8 461.4L557.8 461.1" stroke="#5a6fa6" stroke-width="1.0"/>
<path d="M580.6 463.1L578.7 463.8" stroke="#4a5f9c" stroke-width="1.5"/>
<path d="M569.5 465.8L568.5 465.9" stroke="#4a5f9c" stroke-width="1.0"/>
<path d="M566.1 460.6L562.6 460.1" stroke="#5a6fa6" stroke-width="1.2"/>
<path d="M583.8 451.5L582.6 452.3" stroke="#5a6fa6" stroke-width="0.9"/>
<path d="M561.6 458.0L561.6 460.5" stroke="#5469a6" stroke-width="1.5"/>
<path d="M555.0 467.1L555.0 469.6" stroke="#5469a6" stroke-width="0.9"/>
<path d="M587.4 456.2L585.3 457.6" stroke="#4c7db5" stroke-width="1.5"/>
<path d="M612.6 427.1L612.6 428.3" stroke="#5a6fa6" stroke-width="0.9"/>
<path d="M594.7 449.1L594.7 450.6" stroke="#4a5f9c" stroke-width="1.2"/>
<path d="M596.5 446.4L595.4 448.1" stroke="#4a5f9c" stroke-width="1.0"/>
<path d="M589.6 464.1L587.8 465.1" stroke="#5469a6" stroke-width="1.0"/>
<path d="M602.2 424.6L602.2 426.1" stroke="#5469a6" stroke-width="1.2"/>
<path d="M606.1 404.3L606.1 407.8" stroke="#4c7db5" stroke-width="1.2"/>
<path d="M603.7 425.8L603.7 428.3" stroke="#4c7db5" stroke-width="1.5"/>
<path d="M590.6 454.7L589.9 455.4" stroke="#5a6fa6" stroke-width="1.2"/>
<path d="M599.7 418.3L600.4 420.7" stroke="#5469a6" stroke-width="1.2"/>
<path d="M595.7 462.4L592.9 464.5" stroke="#4a5f9c" stroke-width="1.0"/>
<path d="M599.4 402.4L600.7 404.0" stroke="#4c7db5" stroke-width="1.0"/>
<path d="M612.1 434.9L612.1 437.4" stroke="#5469a6" stroke-width="1.5"/>
<path d="M601.7 423.6L602.1 427.1" stroke="#5469a6" stroke-width="1.2"/>
<path d="M599.0 444.1L597.9 446.3" stroke="#5a6fa6" stroke-width="0.9"/>
<path d="M595.9 441.6L594.8 443.9" stroke="#5a6fa6" stroke-width="1.5"/>
<path d="M602.7 431.5L602.6 433.5" stroke="#5a6fa6" stroke-width="1.0"/>
<path d="M596.3 409.2L596.9 410.0" stroke="#4c7db5" stroke-width="1.2"/>
<path d="M591.8 451.8L591.1 452.5" stroke="#5469a6" stroke-width="1.5"/>
<path d="M606.0 428.9L606.0 430.9" stroke="#5469a6" stroke-width="0.9"/>
<path d="M612.0 417.7L612.3 418.8" stroke="#4a5f9c" stroke-width="1.0"/>
<path d="M599.9 419.9L600.4 421.9" stroke="#4c7db5" stroke-width="1.5"/>
<path d="M597.2 461.9L597.2 462.9" stroke="#5469a6" stroke-width="1.5"/>
<path d="M586.3 462.2L585.5 462.6" stroke="#5469a6" stroke-width="1.5"/>
<path d="M597.5 419.6L597.5 420.8" stroke="#5469a6" stroke-width="0.9"/>
<path d="M602.1 404.6L602.7 405.4" stroke="#4a5f9c" stroke-width="1.0"/>
<path d="M599.1 444.0L598.5 445.1" stroke="#4a5f9c" stroke-width="1.5"/>
<path d="M596.4 409.2L596.4 411.7" stroke="#5a6fa6" stroke-width="1.2"/>
<path d="M590.5 448.1L588.8 449.9" stroke="#4c7db5" stroke-width="1.5"/>
<path d="M588.3 464.1L587.3 464.7" stroke="#5a6fa6" stroke-width="1.0"/>
<path d="M593.8 404.3L596.1 406.9" stroke="#5a6fa6" stroke-width="0.9"/>
<path d="M608.0 435.5L608.0 437.5" stroke="#5469a6" stroke-width="1.0"/>
<path d="M586.5 456.8L585.7 457.4" stroke="#4c7db5" stroke-width="1.5"/>
<path d="M596.5 445.2L595.7 446.5" stroke="#5a6fa6" stroke-width="0.9"/>
<path d="M600.1 434.4L600.1 435.6" stroke="#4c7db5" stroke-width="1.0"/>
<path d="M595.4 449.9L593.9 451.8" stroke="#5a6fa6" stroke-width="1.0"/>
<path d="M612.2 435.6L612.0 436.6" stroke="#5469a6" stroke-width="1.0"/>
<path d="M590.9 409.8L590.9 412.3" stroke="#4a5f9c" stroke-width="0.9"/>
<path d="M600.6 412.7L602.1 415.8" stroke="#4a5f9c" stroke-width="0.9"/>
<path d="M587.2 458.4L586.2 459.1" stroke="#4a5f9c" stroke-width="1.5"/>
<path d="M608.6 421.2L608.9 422.7" stroke="#5a6fa6" stroke-width="1.5"/>
<path d="M593.3 412.7L593.8 413.5" stroke="#5a6fa6" stroke-width="0.9"/>
<path d="M610.1 426.5L610.1 428.0" stroke="#4a5f9c" stroke-width="1.5"/>
<path d="M596.2 405.4L597.1 406.6" stroke="#5a6fa6" stroke-width="1.5"/>
<path d="M609.1 421.8L609.1 423.8" stroke="#5a6fa6" stroke-width="1.5"/>
<path d="M598.5 458.6L597.8 459.3" stroke="#4a5f9c" stroke-width="1.5"/>
<path d="M590.4 449.8L589.5 450.7" stroke="#4c7db5" stroke-width="1.2"/>
<path d="M611.8 416.6L611.8 419.1" stroke="#4c7db5" stroke-width="1.2"/>
<path d="M608.2 419.6L608.7 422.0" stroke="#4a5f9c" stroke-width="0.9"/>
<path d="M590.8 450.5L588.3 452.9" stroke="#4c7db5" stroke-width="1.5"/>
<path d="M592.9 464.6L591.9 465.3" stroke="#4a5f9c" stroke-width="1.0"/>
<path d="M599.6 456.8L597.2 459.4" stroke="#4c7db5" stroke-width="1.0"/>
<path d="M591.9 456.5L591.9 459.0" stroke="#5469a6" stroke-width="1.0"/>
<path d="M594.6 449.6L594.0 450.4" stroke="#4c7db5" stroke-width="1.5"/>
<path d="M600.1 412.5L600.5 413.4" stroke="#4a5f9c" stroke-width="1.2"/>
<path d="M600.9 414.4L602.3 417.6" stroke="#5a6fa6" stroke-width="1.0"/>
<path d="M599.9 409.2L599.9 412.7" stroke="#4c7db5" stroke-width="0.9"/>
<path d="M605.8 420.4L605.8 421.9" stroke="#5a6fa6" stroke-width="1.2"/>
<path d="M600.2 430.9L600.2 432.1" stroke="#4c7db5" stroke-width="1.0"/>
<path d="M594.0 408.7L594.7 409.6" stroke="#4a5f9c" stroke-width="1.0"/>
<path d="M609.0 449.8L609.0 450.8" stroke="#5469a6" stroke-width="1.0"/>
<path d="M584.9 453.3L584.9 454.8" stroke="#5a6fa6" stroke-width="0.9"/>
<path d="M608.5 444.5L608.1 445.6" stroke="#5a6fa6" stroke-width="1.2"/>
<path d="M627.0 429.1L626.9 432.6" stroke="#4c7db5" stroke-width="0.9"/>
<path d="M625.9 412.6L625.9 413.8" stroke="#4a5f9c" stroke-width="1.2"/>
<path d="M629.9 442.5L629.7 443.7" stroke="#5469a6" stroke-width="1.2"/>
<path d="M623.2 447.0L623.2 448.5" stroke="#5469a6" stroke-width="0.9"/>
<path d="M624.2 437.5L624.1 438.5" stroke="#4a5f9c" stroke-width="1.0"/>
<path d="M626.3 445.9L625.8 447.3" stroke="#4c7db5" stroke-width="1.2"/>
<path d="M624.6 426.8L624.7 430.3" stroke="#5469a6" stroke-width="1.2"/>
<path d="M633.6 427.5L633.6 429.0" stroke="#5469a6" stroke-width="1.5"/>
<path d="M621.6 412.7L621.9 413.8" stroke="#5469a6" stroke-width="0.9"/>
<path d="M627.1 440.2L627.1 441.4" stroke="#5a6fa6" stroke-width="0.9"/>
<path d="M631.9 446.7L631.6 447.6" stroke="#5a6fa6" stroke-width="1.2"/>
<path d="M623.2 407.0L623.2 409.5" stroke="#4a5f9c" stroke-width="0.9"/>
<path d="M632.2 425.0L632.3 426.2" stroke="#5469a6" stroke-width="0.9"/>
<path d="M629.8 418.4L630.3 421.8" stroke="#5a6fa6" stroke-width="1.0"/>
<path d="M629.2 444.2L628.9 445.3" stroke="#5a6fa6" stroke-width="1.0"/>
<path d="M625.9 397.0L626.4 398.1" stroke="#5a6fa6" stroke-width="0.9"/>
<path d="M630.2 413.8L630.2 415.0" stroke="#4c7db5" stroke-width="0.9"/>
<path d="M625.1 403.7L626.1 406.0" stroke="#5469a6" stroke-width="1.2"/>
<path d="M625.9 419.2L626.2 421.2" stroke="#5469a6" stroke-width="1.5"/>
<path d="M620.8 410.6L621.5 412.5" stroke="#5469a6" stroke-width="1.5"/>
<path d="M624.4 461.0L624.4 463.0" stroke="#4c7db5" stroke-width="1.0"/>
<path d="M625.1 428.5L625.1 430.5" stroke="#4a5f9c" stroke-width="0.9"/>
<path d="M623.5 442.7L622.6 446.1" stroke="#4a5f9c" stroke-width="0.9"/>
<path d="M629.1 454.4L627.7 457.6" stroke="#4a5f9c" stroke-width="1.0"/>
<path d="M626.1 463.0L624.3 466.0" stroke="#5a6fa6" stroke-width="0.9"/>
<path d="M628.7 404.0L629.2 405.4" stroke="#5a6fa6" stroke-width="1.0"/>
<path d="M621.4 401.5L621.4 403.0" stroke="#5469a6" stroke-width="1.2"/>
<path d="M625.4 406.2L625.4 408.2" stroke="#5a6fa6" stroke-width="1.2"/>
<path d="M623.8 420.8L624.0 422.0" stroke="#4c7db5" stroke-width="1.2"/>
<path d="M615.9 461.4L615.9 462.9" stroke="#4c7db5" stroke-width="0.9"/>
<path d="M616.0 467.4L614.4 469.4" stroke="#4c7db5" stroke-width="0.9"/>
<path d="M615.9 470.5L614.6 472.0" stroke="#4c7db5" stroke-width="1.2"/>
<path d="M628.0 424.6L628.0 425.8" stroke="#5469a6" stroke-width="0.9"/>
<path d="M628.7 412.9L628.7 413.9" stroke="#4c7db5" stroke-width="1.2"/>
<path d="M632.9 446.0L632.2 448.4" stroke="#4a5f9c" stroke-width="1.2"/>
<path d="M622.1 452.0L621.5 453.4" stroke="#5469a6" stroke-width="1.5"/>
<path d="M633.7 435.8L633.5 437.0" stroke="#4a5f9c" stroke-width="0.9"/>
<path d="M623.1 399.7L623.1 401.2" stroke="#5a6fa6" stroke-width="1.2"/>
<path d="M627.4 427.5L627.4 428.7" stroke="#5a6fa6" stroke-width="1.5"/>
<path d="M629.3 404.2L629.8 405.3" stroke="#4a5f9c" stroke-width="1.5"/>
<path d="M614.8 439.8L613.9 443.2" stroke="#4c7db5" stroke-width="1.5"/>
<path d="M579.3 474.9L576.8 475.5" stroke="#5469a6" stroke-width="1.5"/>
<path d="M618.6 455.3L618.6 456.3" stroke="#5469a6" stroke-width="0.9"/>
<path d="M612.2 447.8L612.2 448.8" stroke="#5a6fa6" stroke-width="1.0"/>
<path d="M609.8 461.0L607.6 463.8" stroke="#5a6fa6" stroke-width="1.5"/>
<path d="M600.8 461.3L600.8 464.8" stroke="#4a5f9c" stroke-width="1.5"/>
<path d="M609.4 458.9L609.4 460.9" stroke="#5a6fa6" stroke-width="1.5"/>
<path d="M610.9 449.6L610.4 450.7" stroke="#4c7db5" stroke-width="0.9"/>
<path d="M586.1 483.8L584.7 484.3" stroke="#5469a6" stroke-width="1.2"/>
<path d="M598.3 477.2L598.3 478.7" stroke="#4a5f9c" stroke-width="1.0"/>
<path d="M583.4 473.2L582.0 473.7" stroke="#5a6fa6" stroke-width="1.0"/>
<path d="M592.2 473.3L590.5 474.2" stroke="#5469a6" stroke-width="1.0"/>
<path d="M585.0 480.5L581.6 481.5" stroke="#5469a6" stroke-width="1.5"/>
<path d="M588.2 480.1L587.3 480.5" stroke="#4c7db5" stroke-width="1.0"/>
<path d="M589.3 474.4L589.3 476.9" stroke="#5a6fa6" stroke-width="1.0"/>
<path d="M614.6 438.5L614.1 440.9" stroke="#5a6fa6" stroke-width="1.2"/>
<path d="M592.5 469.1L591.4 469.7" stroke="#4a5f9c" stroke-width="0.9"/>
<path d="M591.5 470.2L589.3 471.3" stroke="#4a5f9c" stroke-width="1.0"/>
<path d="M587.2 481.3L583.8 482.4" stroke="#5a6fa6" stroke-width="0.9"/>
<path d="M611.4 448.7L611.0 449.6" stroke="#4c7db5" stroke-width="0.9"/>
<path d="M602.7 460.5L602.7 464.0" stroke="#4c7db5" stroke-width="1.2"/>
<path d="M604.2 458.5L603.2 459.7" stroke="#4c7db5" stroke-width="0.9"/>
<path d="M490.3 409.8L490.9 407.4" stroke="#4a5f9c" stroke-width="1.2"/>
<path d="M499.6 428.7L499.7 426.2" stroke="#5469a6" stroke-width="1.2"/>
<path d="M492.2 440.2L492.1 439.0" stroke="#4c7db5" stroke-width="0.9"/>
<path d="M540.7 491.3L540.7 492.5" stroke="#4a5f9c" stroke-width="0.9"/>
<path d="M521.7 481.4L519.2 479.0" stroke="#5469a6" stroke-width="1.0"/>
<path d="M489.7 456.6L489.7 459.1" stroke="#4c7db5" stroke-width="1.0"/>
<path d="M485.3 423.4L485.4 422.2" stroke="#4a5f9c" stroke-width="0.9"/>
<path d="M496.9 473.9L495.6 471.8" stroke="#4c7db5" stroke-width="1.2"/>
<path d="M546.0 507.7L546.0 511.2" stroke="#4c7db5" stroke-width="0.9"/>
<path d="M535.7 494.1L533.5 493.0" stroke="#5a6fa6" stroke-width="1.5"/>
<path d="M501.4 408.2L502.2 405.8" stroke="#4c7db5" stroke-width="0.9"/>
<path d="M497.2 457.9L496.5 456.1" stroke="#5a6fa6" stroke-width="1.2"/>
<path d="M503.0 474.5L502.2 473.2" stroke="#4c7db5" stroke-width="1.0"/>
<path d="M500.5 476.3L499.8 475.3" stroke="#4c7db5" stroke-width="1.2"/>
<path d="M486.9 431.2L486.9 433.7" stroke="#5a6fa6" stroke-width="1.0"/>
<path d="M490.8 436.2L490.8 437.7" stroke="#5a6fa6" stroke-width="1.2"/>
<path d="M522.2 498.6L522.2 499.6" stroke="#5a6fa6" stroke-width="0.9"/>
<path d="M507.1 487.0L506.1 485.9" stroke="#4c7db5" stroke-width="1.5"/>
<path d="M533.1 499.0L533.1 500.0" stroke="#5469a6" stroke-width="1.5"/>
<path d="M557.8 503.3L555.8 503.0" stroke="#5469a6" stroke-width="1.2"/>
<path d="M560.5 501.3L557.0 500.9" stroke="#5469a6" stroke-width="1.0"/>
<path d="M491.7 441.9L491.2 438.5" stroke="#5a6fa6" stroke-width="1.0"/>
<path d="M491.3 444.5L490.9 442.5" stroke="#4a5f9c" stroke-width="1.2"/>
<path d="M498.0 413.9L498.4 411.9" stroke="#4c7db5" stroke-width="1.0"/>
<path d="M493.1 419.0L493.3 418.0" stroke="#5a6fa6" stroke-width="1.5"/>
<path d="M496.7 413.1L497.0 412.1" stroke="#4a5f9c" stroke-width="1.5"/>
<path d="M556.4 505.4L555.3 505.2" stroke="#4c7db5" stroke-width="1.0"/>
<path d="M546.7 502.5L546.7 505.0" stroke="#4a5f9c" stroke-width="1.5"/>
<path d="M489.8 451.4L489.2 449.0" stroke="#5a6fa6" stroke-width="1.5"/>
<path d="M502.8 402.0L503.8 399.7" stroke="#4c7db5" stroke-width="0.9"/>
<path d="M538.1 384.0L539.8 383.0" stroke="#4a5f9c" stroke-width="0.9"/>
<path d="M525.8 392.5L528.2 390.0" stroke="#4a5f9c" stroke-width="1.2"/>
<path d="M516.0 400.9L517.3 398.8" stroke="#5469a6" stroke-width="1.5"/>
<path d="M521.3 404.0L521.8 403.2" stroke="#5469a6" stroke-width="1.0"/>
<path d="M536.2 379.7L537.3 379.1" stroke="#5469a6" stroke-width="1.5"/>
<path d="M559.5 368.9L559.5 372.4" stroke="#4c7db5" stroke-width="1.5"/>
<path d="M545.7 380.1L548.9 378.8" stroke="#5469a6" stroke-width="1.2"/>
<path d="M538.6 381.0L541.6 379.3" stroke="#5a6fa6" stroke-width="1.2"/>
<path d="M538.7 382.9L540.4 381.8" stroke="#4c7db5" stroke-width="0.9"/>
<path d="M518.3 405.1L518.3 407.1" stroke="#5a6fa6" stroke-width="1.2"/>
<path d="M532.9 385.5L532.9 388.0" stroke="#5a6fa6" stroke-width="0.9"/>
<path d="M556.0 372.3L557.4 372.0" stroke="#5a6fa6" stroke-width="1.0"/>
<path d="M517.9 403.0L517.9 404.2" stroke="#5a6fa6" stroke-width="1.5"/>
<path d="M534.6 381.2L535.4 380.6" stroke="#5a6fa6" stroke-width="1.2"/>
<path d="M531.6 389.6L532.3 389.0" stroke="#4a5f9c" stroke-width="1.5"/>
<path d="M534.1 386.8L535.1 386.1" stroke="#5469a6" stroke-width="1.5"/>
<path d="M528.5 452.6L527.9 451.5" stroke="#5469a6" stroke-width="1.0"/>
<path d="M538.4 464.5L538.4 468.0" stroke="#5469a6" stroke-width="1.2"/>
<path d="M525.7 447.3L525.1 445.9" stroke="#5469a6" stroke-width="1.2"/>
<path d="M526.9 460.1L526.9 461.1" stroke="#4a5f9c" stroke-width="1.2"/>
<path d="M548.6 465.2L545.6 463.4" stroke="#4a5f9c" stroke-width="1.2"/>
<path d="M529.2 453.2L529.2 454.4" stroke="#5a6fa6" stroke-width="1.5"/>
<path d="M530.8 463.4L529.8 462.3" stroke="#4c7db5" stroke-width="1.0"/>
<path d="M531.7 454.9L531.7 457.4" stroke="#4c7db5" stroke-width="1.2"/>
<path d="M582.1 429.8L582.0 431.3" stroke="#4c7db5" stroke-width="1.2"/>
<path d="M562.0 443.6L561.1 443.1" stroke="#4c7db5" stroke-width="1.2"/>
<path d="M582.0 418.5L582.6 419.3" stroke="#5469a6" stroke-width="0.9"/>
<path d="M575.1 445.2L572.7 446.1" stroke="#4c7db5" stroke-width="1.5"/>
<path d="M575.3 422.1L576.6 423.6" stroke="#5469a6" stroke-width="0.9"/>
<path d="M578.9 440.2L576.2 442.4" stroke="#5a6fa6" stroke-width="0.9"/>
<path d="M575.8 416.5L578.6 418.6" stroke="#5a6fa6" stroke-width="0.9"/>
<path d="M567.1 442.9L566.1 442.8" stroke="#4c7db5" stroke-width="0.9"/>
<path d="M567.5 440.7L566.0 440.5" stroke="#4c7db5" stroke-width="1.2"/>
<path d="M577.1 424.5L577.5 425.4" stroke="#5469a6" stroke-width="0.9"/>
<path d="M576.1 436.2L575.4 436.9" stroke="#5469a6" stroke-width="1.5"/>
<path d="M577.9 432.2L577.2 434.1" stroke="#5469a6" stroke-width="1.0"/>
<path d="M629.0 483.0L628.3 483.7" stroke="#5a6fa6" stroke-width="1.0"/>
<path d="M636.3 468.6L635.8 469.5" stroke="#4a5f9c" stroke-width="0.9"/>
<path d="M640.5 425.4L640.5 427.4" stroke="#5469a6" stroke-width="1.0"/>
<path d="M626.0 475.3L625.4 476.1" stroke="#4a5f9c" stroke-width="1.0"/>
<path d="M649.2 433.5L649.0 435.5" stroke="#4a5f9c" stroke-width="1.2"/>
<path d="M624.2 471.8L623.6 472.6" stroke="#5469a6" stroke-width="0.9"/>
<path d="M652.4 436.2L652.3 437.4" stroke="#4a5f9c" stroke-width="1.5"/>
<path d="M656.9 436.1L656.5 439.6" stroke="#5a6fa6" stroke-width="1.0"/>
</g>
<path d="M574.3 366.6L597.2 372.5" stroke="#4a5f9c" stroke-width="1.2" fill="none"/>
<path d="M580.7 377.6L592.1 380.2" stroke="#4c7db5" stroke-width="3.0" fill="none"/>
<path d="M590.9 378.9L601.1 385.3" stroke="#63d6c3" stroke-width="2.0" fill="none"/>
<path d="M599.8 385.3L608.7 394.2" stroke="#4a5f9c" stroke-width="2.5" fill="none"/>
<path d="M581.9 384.0L597.2 391.6" stroke="#4a5f9c" stroke-width="1.5" fill="none"/>
<path d="M610.0 389.1L618.9 398.0" stroke="#4a5f9c" stroke-width="1.2" fill="none"/>
<path d="M638.1 350.8L645.7 355.9" stroke="#4a5f9c" stroke-width="1.5" fill="none"/>
<path d="M649.5 361.0L659.7 371.2" stroke="#4a5f9c" stroke-width="2.0" fill="none"/>
<path d="M662.3 377.6L664.9 381.4" stroke="#4a5f9c" stroke-width="1.2" fill="none"/>
<path d="M643.2 327.9L645.7 331.7" stroke="#4a5f9c" stroke-width="1.0" fill="none"/>
<path d="M650.8 335.5L652.1 338.1" stroke="#4a5f9c" stroke-width="1.0" fill="none"/>
<path d="M657.2 330.4L659.0 333.5" stroke="#4a5f9c" stroke-width="1.0" fill="none"/>
<path d="M654.6 313.8L655.9 317.1" stroke="#4a5f9c" stroke-width="1.0" fill="none"/>
<path d="M636.8 344.4L638.1 347.0" stroke="#4a5f9c" stroke-width="1.0" fill="none"/>
<path d="M705.7 417.2L706.9 423.5" stroke="#4a5f9c" stroke-width="1.5" fill="none"/>
<path d="M677.6 429.9L685.3 435.0" stroke="#4a5f9c" stroke-width="1.5" fill="none"/>
<path d="M701.8 333.5L708.2 338.1" stroke="#fdd607" stroke-width="2.5" fill="none"/>
<path d="M703.9 334.5L706.4 336.5" stroke="#fdb805" stroke-width="1.5" fill="none"/>
<path d="M699.3 353.4L701.8 361.0" stroke="#12b41c" stroke-width="1.5" fill="none"/>
<path d="M676.3 382.7L678.9 389.1" stroke="#12b41c" stroke-width="2.0" fill="none"/>
<path d="M709.5 361.0L712.1 363.6" stroke="#4a5f9c" stroke-width="1.5" fill="none"/>
<path d="M718.4 412.1L721.0 419.7" stroke="#12c61d" stroke-width="2.0" fill="none"/>
<path d="M692.9 324.0L699.3 329.1" stroke="#4a5f9c" stroke-width="1.0" fill="none"/>
<path d="M708.2 338.1L714.6 348.3" stroke="#4a5f9c" stroke-width="0.8" fill="none"/>
<path d="M687.8 568.2L700.6 565.1" stroke="#12b41c" stroke-width="3.0" fill="none"/>
<path d="M690.4 569.7L696.7 567.2" stroke="#0f8f18" stroke-width="1.5" fill="none"/>
<path d="M676.3 516.7L684.0 515.4" stroke="#0a5f10" stroke-width="1.2" fill="none"/>
<path d="M622.8 542.7L625.8 542.7" stroke="#4a5f9c" stroke-width="1.0" fill="none"/>
<path d="M650.8 546.0L651.6 548.5" stroke="#4a5f9c" stroke-width="1.0" fill="none"/>
<path d="M658.5 538.3L659.7 540.9" stroke="#4a5f9c" stroke-width="1.0" fill="none"/>
<path d="M630.4 569.0L638.1 569.7" stroke="#4a5f9c" stroke-width="1.2" fill="none"/>
<path d="M676.3 572.8L678.9 570.2" stroke="#4a5f9c" stroke-width="1.5" fill="none"/>
<path d="M412.3 487.3L418.7 493.7" stroke="#4b6bb0" stroke-width="1.2" fill="none"/>
<path d="M421.2 489.9L426.3 492.4" stroke="#4b6bb0" stroke-width="1.0" fill="none"/>
<path d="M426.3 503.9L430.1 507.7" stroke="#4b6bb0" stroke-width="1.2" fill="none"/>
<path d="M441.6 512.8L444.2 515.4" stroke="#4b6bb0" stroke-width="1.0" fill="none"/>
<path d="M422.5 563.9L426.3 562.6" stroke="#4a5f9c" stroke-width="1.0" fill="none"/>
<path d="M440.3 569.0L445.4 574.1" stroke="#4b6bb0" stroke-width="1.5" fill="none"/>
<path d="M442.9 572.8L445.4 574.8" stroke="#fdd607" stroke-width="1.0" fill="none"/>
<path d="M511.8 480.4L518.2 486.0" stroke="#4a5f9c" stroke-width="1.2" fill="none"/>
<path d="M520.7 486.0L525.8 488.6" stroke="#4a5f9c" stroke-width="1.5" fill="none"/>
<path d="M523.3 498.8L530.9 500.1" stroke="#4a5f9c" stroke-width="1.0" fill="none"/>
<path d="M538.6 503.9L541.1 507.7" stroke="#4a5f9c" stroke-width="1.2" fill="none"/>
<path d="M546.2 507.7L550.0 510.3" stroke="#4a5f9c" stroke-width="1.2" fill="none"/>
<path d="M507.9 474.6L509.2 477.1" stroke="#4a5f9c" stroke-width="1.0" fill="none"/>
<path d="M528.4 517.9L529.6 519.7" stroke="#4a5f9c" stroke-width="1.0" fill="none"/>
<path d="M564.1 498.8L564.6 501.3" stroke="#4a5f9c" stroke-width="1.0" fill="none"/>
<path d="M580.7 498.8L581.9 500.8" stroke="#4a5f9c" stroke-width="1.0" fill="none"/>
<path d="M627.9 501.3L630.4 503.4" stroke="#4a5f9c" stroke-width="1.0" fill="none"/>
<path d="M604.9 510.3L606.2 511.6" stroke="#4a5f9c" stroke-width="1.0" fill="none"/>
<path d="M487.5 510.3L488.8 511.6" stroke="#4a5f9c" stroke-width="1.0" fill="none"/>
<path d="M477.3 500.1L479.9 500.6" stroke="#4a5f9c" stroke-width="1.0" fill="none"/>
<path d="M691.6 413.3L698.0 414.6" stroke="#4a5f9c" stroke-width="1.2" fill="none"/>
<path d="M710.8 413.3L712.1 415.9" stroke="#4a5f9c" stroke-width="1.2" fill="none"/>
<path d="M692.9 435.0L694.2 437.6" stroke="#4a5f9c" stroke-width="1.2" fill="none"/>
<path d="M715.9 440.1L717.7 442.7" stroke="#12c61d" stroke-width="1.5" fill="none"/>
<path d="M673.8 458.0L675.1 461.8" stroke="#4a5f9c" stroke-width="1.5" fill="none"/>
<path d="M692.9 461.8L694.2 466.1" stroke="#4a5f9c" stroke-width="1.5" fill="none"/>
<path d="M657.2 473.3L666.1 479.7" stroke="#4a5f9c" stroke-width="1.2" fill="none"/>
<path d="M675.1 470.7L676.8 474.6" stroke="#4a5f9c" stroke-width="1.5" fill="none"/>
<path d="M685.3 473.3L687.8 477.1" stroke="#4a5f9c" stroke-width="1.2" fill="none"/>
<path d="M647.0 468.2L648.3 473.3" stroke="#4a5f9c" stroke-width="1.2" fill="none"/>
<path d="M652.1 451.6L657.2 452.9" stroke="#4a5f9c" stroke-width="1.2" fill="none"/>
<path d="M666.1 442.7L666.9 445.2" stroke="#4a5f9c" stroke-width="1.0" fill="none"/>
<path d="M414.1 411.5L421.2 410.0L421.7 414.6L415.6 415.6Z" fill="#63d6c3"/>
<rect x="415.1" y="411.3" width="3.0" height="3.0" fill="#40d56d"/>
<rect x="697.5" y="425.1" width="2.5" height="3.5" fill="#4a5f9c"/>
<rect x="445.5" y="450.8" width="1.5" height="1.5" fill="#4a5f9c"/>
<rect x="444.7" y="472.5" width="1.5" height="1.5" fill="#4a5f9c"/>
<rect x="462.6" y="320.0" width="1.5" height="1.5" fill="#4a5f9c"/>
<rect x="518.4" y="349.5" width="2.0" height="1.2" fill="#4a5f9c"/>
<rect x="560.0" y="468.0" width="4.0" height="3.0" fill="#4a5f9c"/>
<rect x="521.0" y="375.3" width="2.0" height="2.0" fill="#4a5f9c"/>
<rect x="509.7" y="375.3" width="1.5" height="2.0" fill="#4a5f9c"/>
<path d="M791.4 311.3L797.3 310.0L799.0 317.7L793.4 318.9Z" fill="#589fc8"/>
<path d="M794.7 311.3L796.5 317.7" stroke="#63d6c3" stroke-width="1.5" fill="none"/>
<path d="M779.4 310.0L783.2 315.1" stroke="#12c61d" stroke-width="2.0" fill="none"/>
<path d="M843.2 317.7L848.3 334.2" stroke="#12b41c" stroke-width="4.0" fill="none"/>
<path d="M841.9 320.2L844.5 327.9" stroke="#4b6bb0" stroke-width="2.0" fill="none"/>
<path d="M848.3 317.7L849.6 325.3" stroke="#4a5f9c" stroke-width="1.5" fill="none"/>
<path d="M883.2 311.3L889.1 321.5" stroke="#4b6bb0" stroke-width="3.0" fill="none"/>
<path d="M885.3 333.0L889.1 343.2" stroke="#4b6bb0" stroke-width="2.0" fill="none"/>
<path d="M889.1 335.5L890.9 345.7" stroke="#4b6bb0" stroke-width="1.2" fill="none"/>
<path d="M885.3 348.3L886.6 352.1" stroke="#4b6bb0" stroke-width="1.0" fill="none"/>
<path d="M815.1 334.2L821.5 340.6" stroke="#12b41c" stroke-width="3.5" fill="none"/>
<path d="M810.0 340.6L813.8 350.8" stroke="#4b6bb0" stroke-width="2.5" fill="none"/>
<path d="M817.7 330.4L820.2 335.5" stroke="#12c61d" stroke-width="2.0" fill="none"/>
<path d="M806.2 334.2L808.7 336.8" stroke="#4b6bb0" stroke-width="1.0" fill="none"/>
<path d="M822.8 350.8L824.1 357.2" stroke="#4b6bb0" stroke-width="1.2" fill="none"/>
<path d="M857.7 352.1L858.5 355.4" stroke="#4a5f9c" stroke-width="1.0" fill="none"/>
<path d="M848.3 363.6L849.1 366.1" stroke="#4a5f9c" stroke-width="1.0" fill="none"/>
<path d="M827.1 377.6L827.6 381.4" stroke="#4a5f9c" stroke-width="1.0" fill="none"/>
<path d="M822.0 370.0L822.5 372.5" stroke="#4a5f9c" stroke-width="1.0" fill="none"/>
<path d="M724.6 338.1L729.7 344.4" stroke="#12b41c" stroke-width="3.0" fill="none"/>
<path d="M728.4 339.3L733.5 345.7" stroke="#4b6bb0" stroke-width="3.0" fill="none"/>
<path d="M742.4 338.1L744.5 344.4" stroke="#fdd607" stroke-width="2.0" fill="none"/>
<path d="M748.8 334.2L752.6 341.9" stroke="#12c61d" stroke-width="1.5" fill="none"/>
<path d="M738.6 354.6L739.9 357.2" stroke="#4a5f9c" stroke-width="1.0" fill="none"/>
<path d="M745.0 350.8L746.2 355.9" stroke="#12c61d" stroke-width="1.5" fill="none"/>
<path d="M734.8 370.0L736.0 375.1" stroke="#12b41c" stroke-width="2.0" fill="none"/>
<path d="M741.1 380.2L742.4 386.5" stroke="#12c61d" stroke-width="2.5" fill="none"/>
<path d="M747.5 376.3L751.3 382.7" stroke="#4b6bb0" stroke-width="1.5" fill="none"/>
<path d="M740.4 386.5L741.9 394.2" stroke="#0f8f18" stroke-width="2.0" fill="none"/>
<path d="M747.5 398.0L748.8 406.9" stroke="#12b41c" stroke-width="1.5" fill="none"/>
<path d="M752.6 400.6L754.7 408.2" stroke="#12c61d" stroke-width="2.0" fill="none"/>
<path d="M743.7 404.4L745.0 410.8" stroke="#4b6bb0" stroke-width="1.2" fill="none"/>
<path d="M761.5 410.8L763.3 417.2" stroke="#4a5f9c" stroke-width="1.5" fill="none"/>
<path d="M742.4 418.4L746.2 424.8" stroke="#4b6bb0" stroke-width="1.5" fill="none"/>
<path d="M766.6 421.0L768.4 428.6" stroke="#589fc8" stroke-width="2.5" fill="none"/>
<path d="M774.3 417.2L775.6 421.0" stroke="#4b6bb0" stroke-width="1.5" fill="none"/>
<path d="M757.7 433.7L759.8 441.4" stroke="#12c61d" stroke-width="2.0" fill="none"/>
<path d="M751.3 424.8L752.1 435.0" stroke="#4b6bb0" stroke-width="1.0" fill="none"/>
<path d="M734.8 432.5L736.0 438.8" stroke="#4b6bb0" stroke-width="1.0" fill="none"/>
<path d="M730.9 435.0L732.2 440.1" stroke="#4b6bb0" stroke-width="1.5" fill="none"/>
<path d="M724.6 437.6L727.1 445.2" stroke="#acad09" stroke-width="3.0" fill="none"/>
<path d="M726.6 442.7L727.6 449.0" stroke="#12c61d" stroke-width="2.0" fill="none"/>
<path d="M797.3 380.2L801.1 389.1" stroke="#4b6bb0" stroke-width="3.5" fill="none"/>
<path d="M803.6 384.0L806.2 389.1" stroke="#4b6bb0" stroke-width="2.0" fill="none"/>
<path d="M808.7 390.4L811.3 400.6" stroke="#0f8f18" stroke-width="4.0" fill="none"/>
<path d="M798.5 386.5L799.8 394.2" stroke="#589fc8" stroke-width="1.2" fill="none"/>
<path d="M780.7 384.0L781.2 386.5" stroke="#4b6bb0" stroke-width="1.0" fill="none"/>
<path d="M815.1 422.3L817.7 433.7" stroke="#589fc8" stroke-width="3.0" fill="none"/>
<path d="M817.7 422.3L820.2 429.9" stroke="#12c61d" stroke-width="3.0" fill="none"/>
<path d="M821.5 422.3L824.6 428.6" stroke="#4b6bb0" stroke-width="2.0" fill="none"/>
<path d="M815.9 417.2L816.4 421.0" stroke="#4a5f9c" stroke-width="1.0" fill="none"/>
<path d="M793.4 465.6L794.2 475.8" stroke="#12c61d" stroke-width="2.0" fill="none"/>
<path d="M797.3 464.4L798.5 473.3" stroke="#12b41c" stroke-width="2.5" fill="none"/>
<path d="M799.3 454.1L799.8 458.0" stroke="#4b6bb0" stroke-width="1.0" fill="none"/>
<path d="M799.8 463.1L801.1 469.5" stroke="#589fc8" stroke-width="1.5" fill="none"/>
<path d="M734.2 468.2L734.8 473.3" stroke="#589fc8" stroke-width="1.0" fill="none"/>
<path d="M765.4 507.7L768.4 514.1" stroke="#4c7db5" stroke-width="3.5" fill="none"/>
<path d="M803.6 514.1L804.9 516.7" stroke="#4a5f9c" stroke-width="1.0" fill="none"/>
<path d="M799.8 521.8L801.1 524.3" stroke="#4a5f9c" stroke-width="1.0" fill="none"/>
<path d="M935.0 468.2L936.3 486.0" stroke="#40d56d" stroke-width="3.5" fill="none"/>
<path d="M913.9 553.6L915.4 556.2" stroke="#4a5f9c" stroke-width="1.0" fill="none"/>
<path d="M907.0 569.0L910.8 563.9" stroke="#4b6bb0" stroke-width="1.5" fill="none"/>
<path d="M970.7 572.8L973.3 575.1" stroke="#63d6c3" stroke-width="1.5" fill="none"/>
<rect x="933.5" y="474.3" width="3.0" height="4.0" fill="#0a5f10"/>
<path d="M445.4 575.0L453.1 578.8" stroke="#12c61d" stroke-width="3.0" fill="none"/>
<path d="M448.0 577.0L451.8 578.6" stroke="#acad09" stroke-width="1.5" fill="none"/>
<path d="M459.5 583.9L464.6 586.5" stroke="#4a5f9c" stroke-width="1.2" fill="none"/>
<path d="M468.4 592.3L472.2 594.1" stroke="#4a5f9c" stroke-width="1.2" fill="none"/>
<path d="M481.2 580.1L483.7 581.4" stroke="#4a5f9c" stroke-width="1.0" fill="none"/>
<path d="M491.4 580.1L492.6 582.1" stroke="#4a5f9c" stroke-width="1.0" fill="none"/>
<path d="M495.2 589.8L499.0 591.6" stroke="#589fc8" stroke-width="2.0" fill="none"/>
<path d="M502.8 589.0L507.9 591.6" stroke="#4a5f9c" stroke-width="1.2" fill="none"/>
<path d="M510.5 592.3L514.3 595.4" stroke="#4a5f9c" stroke-width="1.2" fill="none"/>
<path d="M453.1 598.5L455.6 600.5" stroke="#4a5f9c" stroke-width="1.0" fill="none"/>
<path d="M411.0 591.6L413.6 594.1" stroke="#4a5f9c" stroke-width="2.0" fill="none"/>
<path d="M482.4 613.3L490.1 613.8" stroke="#4a5f9c" stroke-width="1.0" fill="none"/>
<path d="M476.1 617.1L482.4 619.6" stroke="#4a5f9c" stroke-width="1.0" fill="none"/>
<path d="M485.5 621.4L490.1 623.5" stroke="#12b41c" stroke-width="2.0" fill="none"/>
<path d="M496.5 625.5L502.3 627.0" stroke="#4a5f9c" stroke-width="1.0" fill="none"/>
<path d="M439.1 628.1L445.4 631.1" stroke="#4a5f9c" stroke-width="1.2" fill="none"/>
<path d="M411.0 627.3L414.8 629.9" stroke="#4a5f9c" stroke-width="1.0" fill="none"/>
<path d="M414.8 632.4L418.7 634.2" stroke="#4a5f9c" stroke-width="1.0" fill="none"/>
<path d="M421.2 638.3L423.8 639.3" stroke="#4a5f9c" stroke-width="1.0" fill="none"/>
<path d="M536.0 580.6L553.9 582.1" stroke="#12b41c" stroke-width="2.0" fill="none"/>
<path d="M538.6 581.1L544.9 581.6" stroke="#0a5f10" stroke-width="1.0" fill="none"/>
<path d="M442.9 646.4L446.7 647.7" stroke="#4a5f9c" stroke-width="1.0" fill="none"/>
<path d="M448.8 651.5L453.1 654.1" stroke="#4a5f9c" stroke-width="1.5" fill="none"/>
<path d="M460.7 657.2L464.6 658.2" stroke="#4a5f9c" stroke-width="1.5" fill="none"/>
<path d="M435.2 658.7L444.2 660.5" stroke="#4a5f9c" stroke-width="1.0" fill="none"/>
<path d="M435.2 669.4L444.2 671.4" stroke="#589fc8" stroke-width="1.5" fill="none"/>
<path d="M440.3 666.8L444.2 668.1" stroke="#4a5f9c" stroke-width="1.0" fill="none"/>
<path d="M449.3 671.4L451.8 672.5" stroke="#4a5f9c" stroke-width="1.0" fill="none"/>
<path d="M418.1 649.5L421.2 652.8" stroke="#4a5f9c" stroke-width="1.0" fill="none"/>
<path d="M419.9 656.1L423.8 658.7" stroke="#4a5f9c" stroke-width="1.0" fill="none"/>
<path d="M422.5 663.0L428.9 665.6" stroke="#4a5f9c" stroke-width="1.0" fill="none"/>
<path d="M477.8 666.1L482.4 666.8" stroke="#4a5f9c" stroke-width="1.0" fill="none"/>
<path d="M485.0 668.1L489.6 669.4" stroke="#4a5f9c" stroke-width="1.0" fill="none"/>
<path d="M502.8 669.4L507.9 669.4" stroke="#4a5f9c" stroke-width="1.0" fill="none"/>
<path d="M558.5 657.9L563.6 659.2" stroke="#4a5f9c" stroke-width="1.5" fill="none"/>
<path d="M507.9 677.6L510.5 678.3" stroke="#589fc8" stroke-width="1.5" fill="none"/>
<path d="M510.0 680.6L518.2 679.6" stroke="#4a5f9c" stroke-width="1.2" fill="none"/>
<path d="M519.4 678.3L523.3 678.1" stroke="#4a5f9c" stroke-width="1.0" fill="none"/>
<path d="M509.2 685.2L513.1 684.7" stroke="#4a5f9c" stroke-width="1.5" fill="none"/>
<path d="M507.9 689.8L511.8 690.6" stroke="#4a5f9c" stroke-width="1.5" fill="none"/>
<path d="M422.5 701.3L431.4 705.6" stroke="#4a5f9c" stroke-width="1.5" fill="none"/>
<path d="M423.8 702.6L430.1 705.1" stroke="#589fc8" stroke-width="1.0" fill="none"/>
<path d="M535.2 697.0L540.6 697.0" stroke="#4a5f9c" stroke-width="1.2" fill="none"/>
<path d="M544.9 697.0L550.8 697.5" stroke="#4a5f9c" stroke-width="1.5" fill="none"/>
<path d="M516.9 703.3L519.4 704.6" stroke="#4a5f9c" stroke-width="1.0" fill="none"/>
<path d="M524.0 715.1L528.9 715.3" stroke="#4a5f9c" stroke-width="1.0" fill="none"/>
<path d="M454.9 723.5L459.5 725.0" stroke="#4a5f9c" stroke-width="1.2" fill="none"/>
<path d="M465.3 727.3L470.2 729.4" stroke="#63d6c3" stroke-width="2.0" fill="none"/>
<path d="M492.1 733.2L497.7 733.9" stroke="#589fc8" stroke-width="1.5" fill="none"/>
<path d="M542.4 750.5L552.6 752.8" stroke="#4a5f9c" stroke-width="1.5" fill="none"/>
<path d="M544.9 774.5L551.3 775.5" stroke="#4a5f9c" stroke-width="1.0" fill="none"/>
<path d="M558.5 777.1L564.1 777.6" stroke="#4a5f9c" stroke-width="1.0" fill="none"/>
<path d="M606.9 724.2L615.1 723.0" stroke="#4a5f9c" stroke-width="1.0" fill="none"/>
<path d="M624.0 763.8L636.0 762.5" stroke="#4a5f9c" stroke-width="2.0" fill="none"/>
<path d="M703.1 768.9L715.1 764.3" stroke="#4a5f9c" stroke-width="2.0" fill="none"/>
<path d="M708.2 766.9L714.6 764.8" stroke="#589fc8" stroke-width="1.0" fill="none"/>
<path d="M696.7 682.7L704.4 679.6" stroke="#4a5f9c" stroke-width="1.0" fill="none"/>
<path d="M569.2 609.4L571.7 609.4" stroke="#4a5f9c" stroke-width="1.5" fill="none"/>
<path d="M576.8 618.9L585.8 619.6" stroke="#4a5f9c" stroke-width="1.0" fill="none"/>
<path d="M604.9 609.4L608.7 610.7" stroke="#63d6c3" stroke-width="1.5" fill="none"/>
<path d="M618.9 616.3L625.3 614.5" stroke="#40d56d" stroke-width="3.0" fill="none"/>
<path d="M610.0 618.4L618.9 618.9" stroke="#4a5f9c" stroke-width="1.0" fill="none"/>
<path d="M607.4 642.9L614.6 643.4" stroke="#589fc8" stroke-width="3.5" fill="none"/>
<path d="M625.3 643.4L635.5 644.4" stroke="#63d6c3" stroke-width="2.5" fill="none"/>
<path d="M624.0 642.6L626.6 643.4" stroke="#4a5f9c" stroke-width="1.0" fill="none"/>
<path d="M656.4 582.7L664.9 580.1" stroke="#fdd607" stroke-width="3.0" fill="none"/>
<path d="M652.1 585.7L654.6 586.5" stroke="#4a5f9c" stroke-width="1.0" fill="none"/>
<path d="M629.1 596.7L630.9 596.7" stroke="#4a5f9c" stroke-width="1.0" fill="none"/>
<path d="M639.3 612.0L639.8 613.3" stroke="#4a5f9c" stroke-width="1.0" fill="none"/>
<path d="M655.4 607.7L658.0 609.4" stroke="#12b41c" stroke-width="1.5" fill="none"/>
<path d="M655.9 609.4L658.0 607.7" stroke="#12b41c" stroke-width="1.5" fill="none"/>
<path d="M647.0 601.8L650.8 602.6" stroke="#4a5f9c" stroke-width="1.0" fill="none"/>
<path d="M657.2 629.1L663.6 627.3" stroke="#12b41c" stroke-width="2.0" fill="none"/>
<path d="M640.6 633.7L643.7 632.7" stroke="#4a5f9c" stroke-width="1.5" fill="none"/>
<path d="M673.8 613.3L677.6 614.5" stroke="#4a5f9c" stroke-width="1.0" fill="none"/>
<path d="M673.8 627.3L676.3 628.6" stroke="#4a5f9c" stroke-width="1.0" fill="none"/>
<path d="M677.6 636.2L681.4 637.0" stroke="#4a5f9c" stroke-width="2.0" fill="none"/>
<path d="M670.0 640.8L673.8 641.8" stroke="#4a5f9c" stroke-width="1.0" fill="none"/>
<path d="M671.2 633.7L675.1 636.2" stroke="#4a5f9c" stroke-width="1.0" fill="none"/>
<path d="M687.8 650.3L692.9 651.5" stroke="#63d6c3" stroke-width="2.0" fill="none"/>
<path d="M678.9 649.5L682.7 650.5" stroke="#4a5f9c" stroke-width="1.5" fill="none"/>
<path d="M694.2 641.8L704.4 638.8" stroke="#4a5f9c" stroke-width="1.0" fill="none"/>
<path d="M664.9 659.7L676.8 655.4" stroke="#12b41c" stroke-width="3.0" fill="none"/>
<path d="M666.1 660.5L671.2 659.2" stroke="#63d6c3" stroke-width="1.5" fill="none"/>
<path d="M711.5 613.3L713.6 614.0" stroke="#4a5f9c" stroke-width="1.0" fill="none"/>
<path d="M467.6 607.7L472.2 606.1L477.8 610.7L474.8 613.3L470.2 611.2Z" fill="#12c61d"/>
<path d="M474.8 610.7L481.2 610.7L487.5 613.3L485.0 617.1L478.6 617.9L475.3 614.5Z" fill="#4b6bb0"/>
<path d="M488.8 622.2L493.9 621.4L497.2 626.0L492.1 627.6Z" fill="#acad09"/>
<rect x="451.1" y="653.6" width="4.0" height="5.0" fill="#4b6bb0"/>
<rect x="459.5" y="658.7" width="4.0" height="6.0" fill="#4b6bb0"/>
<rect x="497.0" y="677.3" width="3.0" height="3.0" fill="#4b6bb0"/>
<rect x="499.3" y="687.0" width="3.0" height="3.0" fill="#4b6bb0"/>
<path d="M523.3 662.3L530.9 661.7L530.4 665.8L523.8 666.3Z" fill="#40d56d"/>
<path d="M457.4 689.3L465.9 691.1L465.1 693.6L458.2 692.4Z" fill="#0f8f18"/>
<rect x="573.6" y="602.8" width="4.0" height="3.0" fill="#589fc8"/>
<rect x="585.5" y="602.1" width="3.0" height="3.0" fill="#4b6bb0"/>
<path d="M576.3 613.3L584.5 610.7L585.0 617.1L578.1 618.4Z" fill="#12b41c"/>
<path d="M604.9 612.8L613.8 613.3L615.1 616.3L606.2 617.1Z" fill="#12c61d"/>
<path d="M597.2 624.7L607.4 623.5L608.0 628.1L598.5 628.6Z" fill="#63d6c3"/>
<rect x="604.7" y="623.5" width="3.0" height="5.0" fill="#589fc8"/>
<rect x="649.3" y="611.5" width="2.0" height="2.0" fill="#589fc8"/>
<path d="M682.7 644.4L691.6 641.8L694.7 645.2L691.6 649.0L685.3 650.3L681.9 647.7Z" fill="#12c61d"/>
<rect x="704.9" y="631.7" width="4.0" height="3.0" fill="#4b6bb0"/>
<rect x="708.0" y="634.7" width="3.0" height="3.0" fill="#4b6bb0"/>
<path d="M716.6 647.7L722.0 646.9L722.0 651.5L717.2 651.5Z" fill="#589fc8"/>
<path d="M917.2 736.2L926.1 743.4L923.6 751.0L928.7 758.7L923.6 768.9L915.9 775.3L905.7 774.0L900.6 771.4L895.5 772.7L891.7 765.1L898.0 760.0L905.7 751.0L912.1 742.1Z" fill="#4b6bb0"/>
<path d="M904.4 762.5L912.1 760.0L919.7 761.2L918.4 766.3L909.5 767.6Z" fill="#589fc8"/>
<path d="M905.7 763.8L910.8 762.5L912.1 766.3L907.0 766.9Z" fill="#63c1dc"/>
<path d="M953.9 699.2L962.3 695.9L967.2 702.6L962.3 709.2L955.7 707.4Z" fill="#4b6bb0"/>
<path d="M946.8 711.7L953.4 710.0L957.7 718.4L951.9 723.2L945.7 718.4Z" fill="#4b6bb0"/>
<path d="M955.7 719.4L963.9 717.6L967.2 726.0L960.5 730.9L954.9 726.0Z" fill="#4b6bb0"/>
<path d="M946.5 725.0L953.1 723.2L956.7 728.3L950.1 732.4Z" fill="#4b6bb0"/>
<path d="M946.5 747.5L954.9 743.4L958.8 750.8L953.1 760.7L946.5 758.9Z" fill="#4b6bb0"/>
<path d="M834.3 789.3L841.9 785.5L848.3 790.6L847.0 797.0L843.2 802.1L849.6 805.9L854.7 813.5L861.0 819.9L863.6 827.6L858.5 832.7L849.6 835.2L844.5 827.6L838.1 823.7L831.7 821.2L824.1 823.7L816.4 819.9L810.0 817.4L803.6 813.5L796.0 817.4L789.6 821.2L783.2 827.6L776.9 831.4L770.5 835.2L762.8 840.1L755.2 840.1L769.2 827.6L776.9 822.5L789.6 814.8L801.1 811.0L810.0 808.4L818.9 805.9L826.6 802.1L831.7 797.0Z" fill="#4b6bb0"/>
<path d="M868.7 813.5L875.1 807.2L885.3 800.8L891.7 804.6L890.4 811.0L882.7 817.4L875.1 821.2L870.0 819.9Z" fill="#4b6bb0"/>
<path d="M844.5 827.6L863.6 827.6L875.1 830.1L887.8 832.7L895.5 840.1L829.2 840.1L834.3 832.7Z" fill="url(#pSE2)"/>
<path d="M818.9 812.3L834.3 805.9L841.9 812.3L847.0 819.9L841.9 823.7L834.3 817.4L824.1 817.4Z" fill="#589fc8"/>
<path d="M840.6 814.8L845.7 816.1L847.0 821.2L841.9 819.9Z" fill="#63c1dc"/>
<path d="M771.7 832.7L780.7 828.9L783.2 832.7L774.3 837.8Z" fill="#589fc8"/>
<path d="M1028.2 626.0L1033.0 623.5L1033.0 629.9L1029.4 631.1Z" fill="#4b6bb0"/>
<path d="M1026.9 651.5L1033.0 646.4L1033.0 660.5L1028.2 659.2Z" fill="#4b6bb0"/>
<path d="M1015.4 675.8L1023.1 669.4L1033.0 665.6L1033.0 689.8L1025.6 687.3L1020.5 682.2L1015.4 680.9Z" fill="#4b6bb0"/>
<path d="M1024.3 728.1L1030.7 723.0L1032.0 726.8L1026.9 731.1Z" fill="#4b6bb0"/>
<path d="M853.4 613.3L859.8 607.7L861.8 610.7L855.9 617.1Z" fill="#4b6bb0"/>
<path d="M903.1 779.1L912.1 775.3" stroke="#4b6bb0" stroke-width="1.5" fill="none"/>
<path d="M918.4 779.1L926.1 772.7" stroke="#4b6bb0" stroke-width="1.2" fill="none"/>
<path d="M900.6 751.0L908.2 745.9" stroke="#4b6bb0" stroke-width="1.0" fill="none"/>
<path d="M963.1 723.0L973.3 717.9" stroke="#4b6bb0" stroke-width="2.5" fill="none"/>
<path d="M958.0 714.0L966.9 706.4" stroke="#4b6bb0" stroke-width="1.2" fill="none"/>
<path d="M961.8 700.0L969.0 693.6" stroke="#4b6bb0" stroke-width="1.0" fill="none"/>
<path d="M955.4 734.5L963.1 729.4" stroke="#4b6bb0" stroke-width="1.5" fill="none"/>
<path d="M933.8 744.7L941.4 753.6" stroke="#4b6bb0" stroke-width="3.0" fill="none"/>
<path d="M938.9 763.8L946.5 757.4" stroke="#4b6bb0" stroke-width="3.0" fill="none"/>
<path d="M951.6 765.1L961.8 758.7" stroke="#4b6bb0" stroke-width="2.0" fill="none"/>
<path d="M950.3 763.8L958.0 766.3" stroke="#4b6bb0" stroke-width="1.2" fill="none"/>
<path d="M955.4 779.1L958.0 777.8" stroke="#4b6bb0" stroke-width="1.5" fill="none"/>
<path d="M959.3 743.4L960.5 740.8" stroke="#4b6bb0" stroke-width="1.0" fill="none"/>
<path d="M900.6 802.1L912.1 793.1" stroke="#4b6bb0" stroke-width="2.5" fill="none"/>
<path d="M912.1 802.1L919.7 797.0" stroke="#4b6bb0" stroke-width="3.5" fill="none"/>
<path d="M892.9 817.4L900.6 811.0" stroke="#4b6bb0" stroke-width="2.0" fill="none"/>
<path d="M898.0 812.3L913.3 803.3" stroke="#4b6bb0" stroke-width="1.2" fill="none"/>
<path d="M912.1 794.4L926.1 784.2" stroke="#4b6bb0" stroke-width="1.0" fill="none"/>
<path d="M852.1 800.8L857.2 799.5" stroke="#4b6bb0" stroke-width="1.5" fill="none"/>
<path d="M852.1 805.9L858.5 804.6" stroke="#4b6bb0" stroke-width="1.5" fill="none"/>
<path d="M866.1 813.5L872.5 809.7" stroke="#4b6bb0" stroke-width="1.2" fill="none"/>
<path d="M822.8 794.4L829.2 791.9" stroke="#12b41c" stroke-width="2.5" fill="none"/>
<path d="M834.3 781.7L839.4 780.4" stroke="#4b6bb0" stroke-width="1.0" fill="none"/>
<path d="M745.5 582.7L751.3 579.6" stroke="#12b41c" stroke-width="2.0" fill="none"/>
<path d="M762.8 575.5L765.4 577.6" stroke="#4a5f9c" stroke-width="1.5" fill="none"/>
<path d="M737.3 603.1L742.4 598.5" stroke="#4b6bb0" stroke-width="2.0" fill="none"/>
<path d="M792.9 600.5L796.5 596.7" stroke="#4b6bb0" stroke-width="2.5" fill="none"/>
<path d="M723.3 622.2L727.1 620.4" stroke="#4b6bb0" stroke-width="2.5" fill="none"/>
<path d="M722.0 629.1L725.8 627.3" stroke="#4b6bb0" stroke-width="1.0" fill="none"/>
<path d="M744.5 647.7L750.1 644.4" stroke="#12c61d" stroke-width="2.5" fill="none"/>
<path d="M722.0 649.0L725.1 647.5" stroke="#4a5f9c" stroke-width="1.0" fill="none"/>
<path d="M892.4 610.7L897.5 600.5" stroke="#63d6c3" stroke-width="2.5" fill="none"/>
<path d="M871.2 626.0L876.4 618.9" stroke="#4b6bb0" stroke-width="1.2" fill="none"/>
<path d="M935.8 589.0L937.1 584.7" stroke="#4a5f9c" stroke-width="1.0" fill="none"/>
<path d="M914.6 615.8L916.4 610.7" stroke="#4a5f9c" stroke-width="1.0" fill="none"/>
<path d="M964.4 591.6L973.3 576.3" stroke="#40d56d" stroke-width="3.5" fill="none"/>
<path d="M966.9 587.8L972.0 578.8" stroke="#12b41c" stroke-width="1.5" fill="none"/>
<path d="M769.2 706.4L771.7 704.6" stroke="#4b6bb0" stroke-width="1.5" fill="none"/>
<path d="M771.7 700.0L776.1 698.0" stroke="#4b6bb0" stroke-width="2.0" fill="none"/>
<g stroke="#fff" stroke-width="0.9" fill="none">
<path d="M1017.9 679.6L1021.8 671.9"/>
<path d="M1021.8 682.2L1026.9 673.2"/>
<path d="M1026.9 684.7L1030.7 677.1"/>
<path d="M824.1 827.6L841.9 823.7"/>
<path d="M798.5 821.2L808.7 816.9"/>
<path d="M864.9 830.1L880.2 832.7"/>
<path d="M831.7 830.1L841.9 835.2"/>
<path d="M854.7 837.8L875.1 836.5"/>
</g>
<path d="M751.3 843.9L760.3 838.8L769.2 840.1L767.9 846.4L760.3 849.0L752.6 847.7Z" fill="#4b6bb0"/>
<path d="M722.0 861.7L729.7 860.5L737.3 856.6L745.0 854.1L746.2 856.6L738.6 860.5L729.7 864.3L722.0 866.3Z" fill="#4b6bb0"/>
<path d="M854.7 835.0L864.9 829.9L875.1 827.3L887.8 829.9L889.1 835.0L880.2 838.8L870.0 840.1L859.8 842.6L855.9 840.1Z" fill="url(#pSE2)"/>
<path d="M852.1 854.6L860.3 851.0" stroke="#4b6bb0" stroke-width="2.5" fill="none"/>
<path d="M830.4 851.0L835.5 849.0" stroke="#4b6bb0" stroke-width="1.0" fill="none"/>
<path d="M850.8 886.5L858.5 883.4" stroke="#4b6bb0" stroke-width="1.2" fill="none"/>
<path d="M858.5 882.2L866.1 877.1" stroke="#4b6bb0" stroke-width="2.5" fill="none"/>
<path d="M923.6 889.8L939.4 878.3" stroke="#12b41c" stroke-width="3.5" fill="none"/>
<path d="M989.9 956.7L998.8 951.0" stroke="#40d56d" stroke-width="2.0" fill="none"/>
<path d="M997.5 951.5L1008.3 942.9" stroke="#4a5f9c" stroke-width="2.0" fill="none"/>
<path d="M887.8 843.9L895.5 838.8" stroke="#4b6bb0" stroke-width="3.5" fill="none"/>
<path d="M870.0 846.4L876.4 844.4" stroke="#4b6bb0" stroke-width="1.0" fill="none"/>
<path d="M877.6 845.2L885.3 841.8" stroke="#4b6bb0" stroke-width="1.5" fill="none"/>
<path d="M430.1 917.4L434.0 918.4L437.8 919.1L437.5 922.0L431.4 920.9Z" fill="#4a5f9c"/>
<path d="M526.3 938.8L534.7 938.8" stroke="#4a5f9c" stroke-width="1.5" fill="none"/>
<path d="M716.4 863.8L722.0 862.3L722.0 867.4L717.2 868.4Z" fill="#4b6bb0"/>
<path d="M106.4 864.8L114.0 871.9" stroke="#4a5f9c" stroke-width="2.0" fill="none"/>
<path d="M142.1 906.4L160.0 920.4" stroke="#0f8f18" stroke-width="3.0" fill="none"/>
<path d="M149.7 911.5L157.4 917.9" stroke="#467b0c" stroke-width="1.5" fill="none"/>
<path d="M140.3 909.7L148.5 915.8" stroke="#4a5f9c" stroke-width="2.0" fill="none"/>
<path d="M159.2 920.9L168.4 926.0" stroke="#4a5f9c" stroke-width="2.0" fill="none"/>
<g fill="none">
<path d="M355.3 604.7L357.8 610.8" stroke="#5a70a8" stroke-width="1.7"/>
<path d="M337.4 562.2L339.5 565.3" stroke="#4f659f" stroke-width="0.9"/>
<path d="M336.5 604.7L337.8 607.4" stroke="#5570ad" stroke-width="1.5"/>
<path d="M258.1 602.5L260.9 607.6" stroke="#5570ad" stroke-width="1.2"/>
<path d="M344.2 591.1L345.9 595.2" stroke="#4f659f" stroke-width="1.4"/>
<path d="M263.6 650.5L266.3 654.4" stroke="#5a70a8" stroke-width="1.7"/>
<path d="M403.1 655.8L404.9 658.8" stroke="#4f659f" stroke-width="0.9"/>
<path d="M299.7 624.7L302.9 629.8" stroke="#5a70a8" stroke-width="1.8"/>
<path d="M298.5 581.8L299.9 584.2" stroke="#4f659f" stroke-width="1.0"/>
<path d="M344.0 609.8L346.1 613.8" stroke="#4f659f" stroke-width="1.5"/>
<path d="M290.3 550.5L292.7 555.8" stroke="#4f659f" stroke-width="1.5"/>
<path d="M351.7 597.3L353.3 600.5" stroke="#5570ad" stroke-width="1.6"/>
<path d="M300.6 541.7L302.1 544.9" stroke="#4f659f" stroke-width="1.5"/>
<path d="M304.4 605.4L305.4 607.7" stroke="#5a70a8" stroke-width="1.4"/>
<path d="M375.8 611.6L377.0 614.1" stroke="#5570ad" stroke-width="1.6"/>
<path d="M324.3 598.3L326.8 601.5" stroke="#5570ad" stroke-width="1.4"/>
<path d="M327.9 596.1L330.1 600.1" stroke="#5570ad" stroke-width="1.5"/>
<path d="M323.5 584.9L325.9 590.6" stroke="#5570ad" stroke-width="1.4"/>
<path d="M255.4 661.1L257.3 663.9" stroke="#4f659f" stroke-width="1.5"/>
<path d="M362.5 676.8L365.2 681.9" stroke="#5a70a8" stroke-width="1.5"/>
<path d="M289.5 580.9L293.2 586.2" stroke="#5570ad" stroke-width="1.7"/>
<path d="M247.7 593.8L249.5 598.1" stroke="#5570ad" stroke-width="1.5"/>
<path d="M306.2 644.3L309.2 648.6" stroke="#4f659f" stroke-width="1.7"/>
<path d="M337.3 552.5L340.6 557.3" stroke="#5a70a8" stroke-width="1.8"/>
<path d="M319.2 616.5L320.4 618.7" stroke="#5570ad" stroke-width="1.5"/>
<path d="M307.6 562.1L308.8 564.3" stroke="#5a70a8" stroke-width="1.7"/>
<path d="M341.1 586.7L342.7 589.2" stroke="#5570ad" stroke-width="1.6"/>
<path d="M356.1 585.4L358.3 589.5" stroke="#4f659f" stroke-width="1.3"/>
<path d="M306.7 537.4L308.3 539.8" stroke="#4f659f" stroke-width="1.1"/>
<path d="M350.6 665.2L353.3 670.1" stroke="#5570ad" stroke-width="0.9"/>
<path d="M311.8 612.5L313.7 615.7" stroke="#4f659f" stroke-width="1.4"/>
<path d="M348.0 605.6L350.8 609.3" stroke="#4f659f" stroke-width="1.0"/>
<path d="M285.6 550.3L287.5 553.5" stroke="#4f659f" stroke-width="1.4"/>
<path d="M359.7 635.7L361.2 637.9" stroke="#5570ad" stroke-width="0.9"/>
<path d="M332.8 540.2L334.9 544.4" stroke="#4f659f" stroke-width="1.5"/>
<path d="M322.2 588.9L323.8 591.5" stroke="#5570ad" stroke-width="1.7"/>
<path d="M304.3 553.4L306.4 557.8" stroke="#5a70a8" stroke-width="1.2"/>
<path d="M291.6 602.6L293.7 607.4" stroke="#5a70a8" stroke-width="1.2"/>
<path d="M298.9 590.4L301.1 593.9" stroke="#5a70a8" stroke-width="1.1"/>
<path d="M300.5 594.9L302.0 597.8" stroke="#4f659f" stroke-width="1.0"/>
<path d="M353.0 664.3L355.8 669.2" stroke="#5570ad" stroke-width="1.0"/>
<path d="M317.5 588.3L319.1 590.9" stroke="#5a70a8" stroke-width="1.3"/>
<path d="M244.2 632.2L247.0 638.0" stroke="#5570ad" stroke-width="1.2"/>
<path d="M310.3 553.0L311.8 556.7" stroke="#5570ad" stroke-width="1.1"/>
<path d="M304.3 617.9L306.1 621.9" stroke="#4f659f" stroke-width="1.6"/>
<path d="M272.1 568.5L273.7 571.5" stroke="#4f659f" stroke-width="1.1"/>
<path d="M305.7 564.1L308.5 569.9" stroke="#4f659f" stroke-width="1.6"/>
<path d="M315.8 570.0L317.5 573.8" stroke="#5570ad" stroke-width="1.6"/>
<path d="M281.6 619.7L282.6 622.0" stroke="#5570ad" stroke-width="1.6"/>
<path d="M333.4 617.7L334.9 621.1" stroke="#5570ad" stroke-width="1.2"/>
<path d="M320.1 577.2L322.6 582.6" stroke="#5a70a8" stroke-width="1.7"/>
<path d="M301.6 620.0L303.8 623.5" stroke="#4f659f" stroke-width="1.5"/>
<path d="M266.5 592.5L268.4 595.5" stroke="#5a70a8" stroke-width="1.3"/>
<path d="M292.9 597.8L295.7 602.3" stroke="#5570ad" stroke-width="1.8"/>
<path d="M355.1 631.8L357.2 635.1" stroke="#5570ad" stroke-width="1.5"/>
<path d="M336.0 563.6L337.6 566.0" stroke="#4f659f" stroke-width="1.5"/>
<path d="M296.8 612.2L299.7 618.0" stroke="#5a70a8" stroke-width="1.4"/>
<path d="M320.1 598.6L323.6 603.4" stroke="#5570ad" stroke-width="1.1"/>
<path d="M338.4 621.4L339.7 624.3" stroke="#4f659f" stroke-width="1.6"/>
<path d="M333.1 540.3L336.9 545.6" stroke="#5a70a8" stroke-width="1.7"/>
<path d="M253.2 597.6L255.3 600.4" stroke="#5570ad" stroke-width="1.7"/>
<path d="M342.4 539.9L344.7 543.8" stroke="#5570ad" stroke-width="1.3"/>
<path d="M352.7 599.8L355.5 603.5" stroke="#5a70a8" stroke-width="1.0"/>
<path d="M339.7 605.9L340.8 608.2" stroke="#4f659f" stroke-width="1.1"/>
<path d="M297.2 627.1L300.9 632.0" stroke="#4f659f" stroke-width="1.2"/>
<path d="M391.9 645.2L395.1 650.2" stroke="#5570ad" stroke-width="1.7"/>
<path d="M314.2 541.2L317.1 545.7" stroke="#5570ad" stroke-width="1.1"/>
<path d="M357.0 607.4L358.1 609.9" stroke="#5570ad" stroke-width="1.7"/>
<path d="M344.1 577.1L345.3 579.7" stroke="#5570ad" stroke-width="1.2"/>
<path d="M276.5 575.0L280.0 579.9" stroke="#5570ad" stroke-width="1.8"/>
<path d="M302.1 570.0L304.4 574.4" stroke="#4f659f" stroke-width="1.3"/>
<path d="M308.7 590.7L309.7 593.2" stroke="#5a70a8" stroke-width="1.3"/>
<path d="M315.9 654.1L319.3 659.1" stroke="#4f659f" stroke-width="1.0"/>
<path d="M271.2 592.9L273.0 595.9" stroke="#5570ad" stroke-width="1.6"/>
<path d="M321.3 596.1L323.2 600.0" stroke="#5a70a8" stroke-width="1.3"/>
<path d="M299.2 575.2L301.2 578.1" stroke="#5a70a8" stroke-width="1.3"/>
<path d="M291.8 593.6L293.3 597.1" stroke="#5a70a8" stroke-width="1.6"/>
<path d="M345.5 611.7L347.0 614.3" stroke="#4f659f" stroke-width="1.1"/>
<path d="M310.9 620.9L312.5 624.1" stroke="#5a70a8" stroke-width="1.6"/>
<path d="M331.6 604.7L333.5 608.1" stroke="#4f659f" stroke-width="1.0"/>
<path d="M295.3 564.7L298.4 568.7" stroke="#5a70a8" stroke-width="1.4"/>
<path d="M311.4 595.1L313.4 598.3" stroke="#4f659f" stroke-width="1.3"/>
<path d="M366.1 679.1L368.4 682.1" stroke="#4f659f" stroke-width="1.2"/>
<path d="M308.0 597.9L310.5 603.4" stroke="#4f659f" stroke-width="1.2"/>
<path d="M326.7 581.0L327.9 583.9" stroke="#5570ad" stroke-width="1.1"/>
<path d="M279.3 564.5L281.8 570.4" stroke="#5a70a8" stroke-width="0.9"/>
<path d="M337.0 590.7L339.0 594.9" stroke="#5570ad" stroke-width="1.1"/>
<path d="M321.4 586.2L323.8 591.0" stroke="#5a70a8" stroke-width="1.1"/>
<path d="M253.5 584.2L255.7 588.0" stroke="#4f659f" stroke-width="1.2"/>
<path d="M271.2 575.6L274.2 580.6" stroke="#4f659f" stroke-width="1.4"/>
<path d="M338.2 575.4L339.7 577.7" stroke="#5a70a8" stroke-width="1.1"/>
<path d="M288.5 540.5L291.8 546.1" stroke="#4f659f" stroke-width="1.1"/>
<path d="M322.3 599.3L323.8 601.6" stroke="#5a70a8" stroke-width="1.4"/>
<path d="M266.4 577.3L268.5 581.6" stroke="#5570ad" stroke-width="1.7"/>
<path d="M339.1 566.5L341.8 570.8" stroke="#4f659f" stroke-width="1.6"/>
<path d="M348.3 604.4L351.4 608.5" stroke="#4f659f" stroke-width="1.4"/>
<path d="M257.5 587.8L260.3 591.3" stroke="#4f659f" stroke-width="1.3"/>
<path d="M377.1 617.0L379.3 621.6" stroke="#5570ad" stroke-width="1.7"/>
<path d="M309.7 593.3L312.0 597.5" stroke="#5570ad" stroke-width="1.4"/>
<path d="M330.5 605.7L332.1 607.9" stroke="#5a70a8" stroke-width="1.2"/>
<path d="M327.1 696.5L329.3 701.4" stroke="#4f659f" stroke-width="1.1"/>
<path d="M267.4 575.6L270.3 579.4" stroke="#4f659f" stroke-width="1.6"/>
<path d="M272.7 577.9L273.9 580.2" stroke="#4f659f" stroke-width="1.5"/>
<path d="M289.3 597.5L291.3 601.3" stroke="#4f659f" stroke-width="1.6"/>
<path d="M283.1 550.9L285.9 554.6" stroke="#4f659f" stroke-width="1.3"/>
</g>
<path d="M692.5 414.2L697.6 413.7" stroke="#4a5f9c" stroke-width="1.5" fill="none"/>
<path d="M694.7 415.2L695.1 417.2" stroke="#4a5f9c" stroke-width="1.2" fill="none"/>
<path d="M701.1 414.0L703.1 414.5" stroke="#4a5f9c" stroke-width="1.2" fill="none"/>
<path d="M705.9 415.7L706.1 423.8" stroke="#4a5f9c" stroke-width="1.6" fill="none"/>
<path d="M710.7 413.5L712.7 414.0" stroke="#4a5f9c" stroke-width="1.2" fill="none"/>
<path d="M719.8 413.2L719.0 420.3" stroke="#0f8f18" stroke-width="1.5" fill="none"/>
<path d="M721.0 416.7L722.0 419.7" stroke="#4a5f9c" stroke-width="2.0" fill="none"/>
<path d="M717.0 418.2L717.2 420.3" stroke="#4a5f9c" stroke-width="1.2" fill="none"/>
<path d="M721.6 422.3L722.4 424.3" stroke="#4a5f9c" stroke-width="1.5" fill="none"/>
<path d="M698.3 424.3L700.3 428.8" stroke="#4a5f9c" stroke-width="2.2" fill="none"/>
<path d="M698.4 430.4L699.4 432.4" stroke="#4a5f9c" stroke-width="1.5" fill="none"/>
<path d="M660.7 429.8L662.7 428.5" stroke="#4a5f9c" stroke-width="1.2" fill="none"/>
<path d="M682.9 429.3L684.2 434.9" stroke="#4a5f9c" stroke-width="1.6" fill="none"/>
<path d="M692.7 434.2L695.4 438.2" stroke="#4a5f9c" stroke-width="1.2" fill="none"/>
<path d="M698.1 441.7L700.6 441.7" stroke="#4a5f9c" stroke-width="1.5" fill="none"/>
<path d="M695.3 443.5L695.4 447.5" stroke="#4a5f9c" stroke-width="1.2" fill="none"/>
<path d="M657.7 441.7L659.4 445.3" stroke="#4a5f9c" stroke-width="1.2" fill="none"/>
<path d="M666.2 442.0L666.5 446.5" stroke="#4a5f9c" stroke-width="1.4" fill="none"/>
<path d="M651.9 458.6L654.9 461.2" stroke="#4a5f9c" stroke-width="1.5" fill="none"/>
<path d="M672.1 461.2L675.6 456.4" stroke="#4a5f9c" stroke-width="1.5" fill="none"/>
<path d="M692.5 461.2L695.4 467.2" stroke="#4a5f9c" stroke-width="2.0" fill="none"/>
<path d="M648.1 466.2L651.1 472.8" stroke="#4a5f9c" stroke-width="1.5" fill="none"/>
<path d="M663.4 466.2L663.6 467.7" stroke="#4a5f9c" stroke-width="1.0" fill="none"/>
<path d="M667.3 468.2L667.4 470.8" stroke="#4a5f9c" stroke-width="1.0" fill="none"/>
<path d="M657.4 472.6L659.5 475.0" stroke="#4a5f9c" stroke-width="1.6" fill="none"/>
<path d="M661.4 477.3L667.5 482.4" stroke="#4a5f9c" stroke-width="1.5" fill="none"/>
<path d="M666.5 479.3L666.9 483.4" stroke="#4a5f9c" stroke-width="1.2" fill="none"/>
<path d="M674.5 471.6L676.6 474.0" stroke="#4a5f9c" stroke-width="1.6" fill="none"/>
<path d="M682.4 474.8L684.4 475.3" stroke="#4a5f9c" stroke-width="1.5" fill="none"/>
<path d="M686.3 477.3L688.5 473.0" stroke="#4a5f9c" stroke-width="1.4" fill="none"/>
<path d="M687.5 473.0L689.7 473.4" stroke="#4a5f9c" stroke-width="1.2" fill="none"/>
<path d="M716.8 437.4L716.3 445.5" stroke="#12b41c" stroke-width="2.0" fill="none"/>
<path d="M723.0 435.4L725.7 442.5" stroke="#acad09" stroke-width="3.0" fill="none"/>
<path d="M726.5 439.4L727.7 449.5" stroke="#0f8f18" stroke-width="3.5" fill="none"/>
<path d="M720.0 436.4L720.6 442.5" stroke="#4a5f9c" stroke-width="1.5" fill="none"/>
<path d="M731.1 434.4L732.7 439.4" stroke="#4a5f9c" stroke-width="2.0" fill="none"/>
<path d="M735.2 433.4L736.8 437.4" stroke="#4a5f9c" stroke-width="1.5" fill="none"/>
<path d="M723.5 445.5L724.1 448.5" stroke="#4a5f9c" stroke-width="1.5" fill="none"/>
<path d="M734.5 467.2L734.6 473.3" stroke="#63d6c3" stroke-width="1.0" fill="none"/>
<path d="M732.9 470.3L736.0 470.3" stroke="#63d6c3" stroke-width="1.0" fill="none"/>
<rect x="691.0" y="422.3" width="6.5" height="3.5" fill="#4a5f9c"/>
<rect x="677.9" y="429.9" width="2.5" height="2.5" fill="#4a5f9c"/>
<rect x="652.7" y="451.0" width="6.0" height="3.5" fill="#589fc8"/>
<rect x="725.3" y="458.2" width="1.2" height="1.2" fill="#4a5f9c"/>
<g fill="none">
<path d="M822.4 243.8L824.8 247.1" stroke="#4a5f9c" stroke-width="1.1"/>
<path d="M844.4 238.1L846.5 240.7" stroke="#4a5f9c" stroke-width="0.9"/>
<path d="M847.9 234.7L851.5 238.4" stroke="#5469a6" stroke-width="1.5"/>
<path d="M842.3 250.7L843.9 252.8" stroke="#4a5f9c" stroke-width="1.1"/>
<path d="M840.9 243.0L842.3 245.2" stroke="#4b6bb0" stroke-width="1.4"/>
<path d="M832.0 239.2L834.8 242.4" stroke="#4b6bb0" stroke-width="1.0"/>
<path d="M832.9 248.8L835.1 251.0" stroke="#5469a6" stroke-width="1.4"/>
<path d="M842.2 245.9L845.2 250.0" stroke="#4a5f9c" stroke-width="1.0"/>
<path d="M836.0 234.0L838.0 236.3" stroke="#4a5f9c" stroke-width="1.3"/>
<path d="M828.5 235.0L832.3 239.6" stroke="#4b6bb0" stroke-width="1.2"/>
<path d="M844.7 225.0L848.0 229.8" stroke="#4b6bb0" stroke-width="0.9"/>
<path d="M835.2 245.7L838.3 249.1" stroke="#5469a6" stroke-width="1.3"/>
<path d="M820.2 242.6L823.4 247.0" stroke="#5469a6" stroke-width="1.1"/>
<path d="M847.6 228.3L851.6 232.4" stroke="#4a5f9c" stroke-width="1.0"/>
<path d="M829.1 242.9L832.4 247.5" stroke="#4a5f9c" stroke-width="1.6"/>
<path d="M848.5 226.5L849.9 228.6" stroke="#5469a6" stroke-width="1.1"/>
<path d="M858.2 230.5L860.1 233.7" stroke="#4a5f9c" stroke-width="1.4"/>
<path d="M860.9 228.3L862.2 231.1" stroke="#4c7db5" stroke-width="1.2"/>
<path d="M872.8 227.6L874.8 231.7" stroke="#4a5f9c" stroke-width="1.1"/>
<path d="M857.7 229.6L860.4 233.9" stroke="#4b6bb0" stroke-width="1.5"/>
<path d="M871.8 246.4L875.3 251.2" stroke="#4a5f9c" stroke-width="1.1"/>
<path d="M860.9 235.4L862.8 239.0" stroke="#4b6bb0" stroke-width="1.1"/>
<path d="M864.1 234.3L867.4 238.8" stroke="#4a5f9c" stroke-width="1.1"/>
<path d="M861.7 239.2L863.5 242.2" stroke="#4c7db5" stroke-width="1.3"/>
<path d="M874.4 257.4L876.0 259.8" stroke="#4b6bb0" stroke-width="1.2"/>
<path d="M864.9 239.1L867.3 244.3" stroke="#4c7db5" stroke-width="1.2"/>
<path d="M858.5 227.7L860.3 230.3" stroke="#4a5f9c" stroke-width="1.4"/>
<path d="M864.8 228.1L868.0 232.2" stroke="#4b6bb0" stroke-width="1.3"/>
<path d="M854.2 239.4L856.7 244.5" stroke="#4b6bb0" stroke-width="1.2"/>
<path d="M866.4 243.2L869.5 248.4" stroke="#4c7db5" stroke-width="1.3"/>
<path d="M843.4 268.0L844.9 270.5" stroke="#4a5f9c" stroke-width="1.0"/>
<path d="M823.9 275.0L825.1 277.6" stroke="#4a5f9c" stroke-width="1.5"/>
<path d="M837.4 270.8L839.2 274.1" stroke="#4b6bb0" stroke-width="0.9"/>
<path d="M842.6 275.1L845.5 280.2" stroke="#4a5f9c" stroke-width="1.1"/>
<path d="M850.3 258.2L853.1 262.6" stroke="#4b6bb0" stroke-width="1.3"/>
<path d="M828.7 258.2L831.7 262.6" stroke="#4b6bb0" stroke-width="1.0"/>
<path d="M825.3 266.9L828.3 271.8" stroke="#5469a6" stroke-width="1.1"/>
<path d="M834.2 265.9L836.3 268.8" stroke="#5469a6" stroke-width="1.4"/>
<path d="M830.7 258.1L832.2 260.6" stroke="#4a5f9c" stroke-width="1.4"/>
<path d="M831.1 271.6L833.1 275.7" stroke="#4b6bb0" stroke-width="1.5"/>
<path d="M838.3 253.5L840.2 256.9" stroke="#4b6bb0" stroke-width="1.0"/>
<path d="M848.7 264.7L850.3 268.2" stroke="#4b6bb0" stroke-width="1.0"/>
<path d="M832.0 271.9L833.9 275.6" stroke="#4b6bb0" stroke-width="1.1"/>
<path d="M826.2 271.3L828.9 274.8" stroke="#4a5f9c" stroke-width="1.4"/>
<path d="M839.8 164.4L844.1 168.7" stroke="#5469a6" stroke-width="1.0"/>
<path d="M839.7 159.7L842.5 164.3" stroke="#4b6bb0" stroke-width="1.0"/>
<path d="M833.6 166.2L835.1 168.7" stroke="#4a5f9c" stroke-width="1.2"/>
<path d="M840.7 151.0L844.7 155.2" stroke="#4a5f9c" stroke-width="0.9"/>
<path d="M844.4 142.1L846.8 144.7" stroke="#4a5f9c" stroke-width="1.2"/>
<path d="M839.2 137.8L841.8 140.4" stroke="#4a5f9c" stroke-width="1.3"/>
<path d="M842.9 163.5L845.8 168.2" stroke="#5469a6" stroke-width="1.0"/>
<path d="M828.0 142.7L831.3 146.8" stroke="#4a5f9c" stroke-width="1.2"/>
<path d="M834.6 159.5L836.2 162.0" stroke="#5469a6" stroke-width="1.2"/>
<path d="M841.8 154.4L845.1 157.8" stroke="#5469a6" stroke-width="1.0"/>
</g>
</g>
<g stroke="#b0b0b0" stroke-opacity="0.75" stroke-width="0.7" stroke-dasharray="2.8,0.9" fill="none">
<line x1="256.6" y1="45.5" x2="256.6" y2="969.3"/>
<line x1="411.6" y1="45.5" x2="411.6" y2="969.3"/>
<line x1="566.5" y1="45.5" x2="566.5" y2="969.3"/>
<line x1="721.5" y1="45.5" x2="721.5" y2="969.3"/>
<line x1="876.5" y1="45.5" x2="876.5" y2="969.3"/>
<line x1="101.6" y1="853.8" x2="1031.5" y2="853.8"/>
<line x1="101.6" y1="738.3" x2="1031.5" y2="738.3"/>
<line x1="101.6" y1="622.9" x2="1031.5" y2="622.9"/>
<line x1="101.6" y1="507.4" x2="1031.5" y2="507.4"/>
<line x1="101.6" y1="391.9" x2="1031.5" y2="391.9"/>
<line x1="101.6" y1="276.4" x2="1031.5" y2="276.4"/>
<line x1="101.6" y1="161.0" x2="1031.5" y2="161.0"/>
</g>
<g clip-path="url(#ax)" fill="none" stroke-linejoin="round" stroke-linecap="round">
<g stroke="#888" stroke-width="1.4">
<path d="M669.2 392.1 L679.1 392.9 L688.9 390.9 L693.8 384.7 L696.3 378.6 L703.7 377.4 L708.6 374.9 L714.7 379.8 L720.9 386.0 L728.3 389.7 L736.9 389.7 L739.4 394.6 L735.7 398.3 L730.7 400.7 L729.5 408.1 L733.2 413.1 L735.7 416.7 L732.0 425.4 L727.1 432.7 L722.1 437.7 L718.4 443.8 L714.7 450.0 L707.4 453.7 L701.2 450.0 L696.3 454.9 L692.6 445.0 L687.7 450.0 L682.8 446.3 L677.8 440.1 L671.7 445.0 L664.3 451.2 L654.5 451.2"/>
<path d="M739.4 394.6 L745.5 399.5 L750.4 397.1 L757.8 400.7 L767.7 403.2 L772.6 410.6"/>
<path d="M745.5 399.5 L741.8 408.1 L735.7 416.7"/>
<path d="M750.4 397.1 L749.2 408.1 L749.2 418.0 L751.7 425.4 L756.6 432.7 L762.7 437.7 L771.4 443.8 L777.5 450.0 L783.7 443.8 L794.7 441.4"/>
<path d="M714.7 450.0 L712.3 457.4 L713.5 464.7 L711.1 472.1 L714.7 475.8 L724.6 472.1 L733.2 472.1 L740.6 469.7 L745.5 473.3 L750.4 477.0 L759.0 474.6 L767.7 472.1 L776.3 474.6 L782.4 482.0 L792.3 486.9 L797.2 484.4 L802.1 474.6 L804.6 464.7 L809.5 462.3 L819.3 463.5"/>
<path d="M724.6 472.1 L728.3 478.3 L723.4 484.4 L718.4 489.3 L714.7 496.7 L718.4 504.1 L717.2 511.5 L719.7 520.1 L720.9 530.0 L734.4 533.2 L744.3 530.8 L749.2 534.5 L761.5 535.7 L772.6 536.4 L777.5 523.4 L786.1 514.8 L793.5 508.6 L804.6 509.8 L804.6 499.2 L800.9 493.0 L794.7 489.3 L792.3 486.9"/>
<path d="M719.7 520.1 L711.1 522.6 L701.2 528.7 L693.8 526.3 L686.4 525.0"/>
<path d="M807.0 509.0 L814.4 514.0 L821.8 517.6 L831.6 514.0 L841.5 506.6 L848.9 510.3 L853.8 515.2 L861.2 510.3 L875.9 514.0"/>
<path d="M749.2 534.5 L748.0 543.1 L751.2 548.0 L750.4 554.1 L744.3 549.2 L739.3 552.9 L734.4 561.5 L727.0 568.9 L720.9 572.6 L723.3 580.0 L722.1 583.7"/>
<path d="M685.2 591.1 L687.7 598.4 L697.5 593.5 L707.4 588.6 L722.1 583.7 L734.4 580.7 L743.0 579.2 L748.0 584.9 L752.9 592.3 L761.5 594.7 L768.9 600.9 L772.6 605.8 L770.1 613.2 L780.0 608.3 L791.0 604.6 L793.5 616.9"/>
<path d="M772.6 536.4 L786.1 535.7 L800.9 538.1 L808.3 549.2 L813.2 559.1 L818.1 565.2 L830.4 570.1 L840.0 573.8"/>
<path d="M818.1 565.2 L810.7 570.1 L808.3 575.1 L813.2 578.8 L807.0 584.9 L795.9 589.8 L791.0 598.4 L791.0 604.6"/>
</g>
<g stroke="#000" stroke-width="2.9">
<path d="M100.0 229.0 L108.6 225.3 L111.8 232.0 L118.5 236.9 L124.6 243.8 L125.8 246.8 L132.0 246.8 L138.1 250.5 L139.4 257.8 L140.6 265.2 L143.1 266.0 L143.8 271.4 L150.5 271.9 L152.2 268.9 L149.2 264.5 L150.5 259.8 L152.9 259.1 L159.1 264.5 L164.5 266.0 L166.4 270.1 L169.4 273.3 L165.2 277.5 L157.8 282.4 L152.9 290.6 L148.0 293.5 L149.2 299.7 L148.0 305.8 L146.8 310.7 L148.0 315.7 L144.3 320.6 L140.6 328.0 L145.5 330.4 L152.9 328.7 L161.0 328.7 L162.8 340.3 L165.2 344.0 L167.7 350.1 L171.4 355.0 L171.4 360.0 L164.0 363.7 L159.1 367.4 L150.5 369.8 L146.8 376.0 L142.3 383.3 L145.5 388.3 L150.5 392.0 L149.2 396.9 L144.8 400.6 L152.9 403.0 L160.3 406.7 L161.5 411.6 L171.4 410.4 L181.2 408.0 L192.3 406.7 L196.0 405.5 L203.4 409.2 L208.3 412.9 L218.1 412.1 L228.0 415.3 L239.0 419.8 L248.9 415.3 L260.0 415.3 L263.7 411.6 L268.6 405.5 L276.0 403.0 L280.9 398.9 L294.4 396.4 L304.3 394.4 L315.8 392.0 L316.6 387.0 L315.3 382.1 L316.6 372.3 L315.3 364.9 L313.6 358.7 L316.1 350.1 L322.7 344.0 L332.6 339.8 L333.8 334.1 L337.5 328.0 L348.6 321.8 L355.9 313.7 L358.4 319.4 L364.6 320.1 L371.9 319.4 L374.4 325.5 L378.6 328.0 L371.9 332.9 L370.2 340.3 L371.9 347.7 L368.3 349.6 L367.0 345.2 L362.1 348.9 L359.6 356.3 L357.9 360.0 L353.5 362.4 L355.9 367.4 L360.9 369.8 L358.4 376.0 L355.9 382.1 L353.5 389.5 L349.8 396.9 L346.1 403.0 L345.6 409.2 L351.0 412.1 L358.4 414.1 L365.8 419.0 L371.9 424.0 L375.1 430.1 L373.2 440.0 L369.5 448.6 L364.6 455.9 L364.5 455.4 L366.0 464.0 L370.1 467.7 L370.9 473.8 L368.4 480.0 L366.0 486.1 L370.1 488.1 L376.3 487.4 L381.2 489.8 L388.6 489.1 L394.7 484.2 L407.1 484.2 L414.4 492.3 L423.1 496.5 L432.9 500.9 L437.8 499.7 L442.7 507.1 L447.7 514.4 L449.6 520.6 L455.0 524.3 L458.7 521.3 L461.2 524.3 L462.4 532.9 L472.3 532.4 L477.2 534.1 L488.3 534.9 L494.4 531.7 L504.3 542.7 L513.6 551.4 L509.2 556.3 L505.5 562.4 L508.0 569.8 L516.1 567.4 L517.8 561.7 L531.3 567.4 L540.0 573.8 L544.4 580.0 L546.2 587.4 L551.1 592.3 L547.9 598.4 L552.3 605.8 L550.3 613.2 L554.8 618.1 L556.7 622.6 L560.9 619.4 L569.5 618.1 L576.9 615.7 L581.8 609.5 L588.0 609.5 L594.1 613.2 L599.1 619.4 L601.5 613.2 L603.5 607.1 L607.7 602.1 L613.8 598.4 L621.2 599.7 L626.1 602.9 L633.5 603.4 L638.4 600.9 L645.8 602.1 L646.3 594.7 L649.5 593.5 L655.7 597.2 L660.6 600.4 L664.3 600.9 L670.4 603.4 L670.4 609.5 L674.1 615.7 L679.0 620.6 L687.7 622.6 L695.0 621.8 L703.7 622.6 L709.8 626.7 L712.3 634.1 L714.7 642.7 L722.1 643.2 L729.5 644.7 L733.2 645.2 L738.1 639.0 L744.3 639.8 L750.4 643.2 L752.1 636.6 L757.8 632.9 L760.3 626.7 L766.4 626.7 L770.1 620.6 L778.7 618.9 L788.6 618.1 L795.9 616.9 L804.6 619.4 L810.7 626.7 L816.9 630.4 L823.0 635.4 L829.2 636.6 L834.1 639.8 L834.5 640.2 L843.1 637.7 L851.7 632.8 L857.8 637.2 L864.0 638.5 L870.1 644.6 L878.8 649.5 L886.1 653.2 L893.0 659.4 L888.1 664.3 L890.6 669.2 L897.2 672.9 L902.1 675.4 L902.1 681.5 L907.1 684.5 L903.4 688.9 L897.2 687.7 L896.0 692.6 L900.9 696.3 L904.6 698.8 L905.8 704.9 L910.7 708.6 L915.7 714.7 L921.8 718.4 L928.0 722.9 L926.7 729.5 L928.0 734.4 L934.1 738.1 L934.1 745.5 L936.6 751.7 L945.2 754.1 L946.4 761.5 L942.2 766.4 L945.2 772.6 L950.1 776.3 L957.5 777.0 L963.7 775.0 L969.8 778.7 L977.2 782.4 L983.3 781.2 L983.3 773.8 L987.0 767.7 L983.3 760.3 L980.9 754.1 L987.0 750.4 L994.4 754.1 L1001.8 754.1 L1008.0 749.9 L1012.9 751.7 L1017.8 756.6 L1024.0 759.0 L1030.8 764.0"/>
<path d="M664.3 600.9 L672.9 594.7 L679.0 588.6 L681.5 583.7 L675.4 578.3 L680.8 571.4 L682.7 564.0 L684.7 557.8 L691.4 556.1 L693.1 545.5 L687.7 541.8 L682.7 536.9 L681.5 529.5 L685.2 524.1 L681.5 517.2 L674.1 517.7 L669.2 517.2 L666.7 509.8 L663.1 500.0 L665.5 504.1 L661.8 494.3 L656.9 485.7 L647.1 484.4 L644.6 474.6 L645.8 462.3 L644.6 452.4 L654.5 450.0 L653.2 443.8 L647.1 440.1 L641.7 437.2 L643.4 430.3 L649.5 420.4 L653.2 409.4 L663.1 408.1 L664.3 403.2 L670.5 400.7 L671.7 393.4 L668.0 388.4 L669.2 383.5 L675.4 379.8 L677.8 368.8 L679.1 358.9 L686.4 354.0 L688.9 342.9 L696.3 336.8 L704.9 330.6 L708.6 320.8 L711.1 311.7 L728.3 307.2 L730.7 313.4 L744.3 317.1 L745.5 310.9 L752.9 311.7 L761.5 319.5 L759.0 324.5 L761.5 328.1 L766.4 326.9 L767.7 322.0 L764.0 320.8 L760.8 324.5 L760.3 331.8 L761.5 339.2 L760.3 346.6 L756.6 354.0 L757.8 361.4 L755.4 363.8 L761.5 368.8 L762.7 378.6 L766.4 384.7 L768.9 388.4 L770.1 395.8 L772.6 403.2 L776.3 409.4 L781.2 408.1 L783.7 413.1 L789.8 416.7 L789.8 425.4 L792.3 432.7 L796.0 440.1 L802.1 446.3 L808.3 448.7 L814.4 452.4 L818.1 458.6 L820.6 466.0 L825.5 463.5 L829.2 459.8 L836.6 461.0 L841.5 467.2 L846.4 473.3 L853.8 477.0 L862.4 475.8 L867.3 473.3 L874.7 477.0 L880.9 479.5 L884.6 478.3 L883.3 483.2 L878.4 486.9 L879.6 494.3 L877.2 501.6 L878.4 509.0 L875.9 515.2 L879.6 518.9 L875.9 522.6 L869.8 530.0 L862.4 533.6 L857.5 539.8 L852.6 545.9 L853.3 547.1 L856.8 549.5 L853.8 558.1 L850.1 566.7 L844.5 574.1 L839.1 577.8 L835.4 582.7 L837.8 586.4 L832.9 588.9 L835.4 593.8 L839.1 597.5 L835.4 602.4 L832.2 607.4 L832.9 617.2 L834.6 627.0 L834.6 639.8"/>
<path d="M724.9 45.4 L729.1 54.8 L732.3 58.5 L734.7 56.0 L743.4 57.2 L752.0 56.7 L758.1 59.7 L761.8 69.5 L765.5 76.9 L770.4 83.1 L774.1 91.7 L772.9 96.6 L776.6 101.5 L785.2 99.1 L793.8 100.3 L802.4 100.3 L804.4 104.5 L798.7 111.4 L796.3 117.5 L790.1 118.8 L786.4 124.9 L779.0 129.8 L775.4 133.5 L775.4 140.9 L781.5 144.6 L779.0 148.3 L784.0 152.0 L787.7 158.1 L791.4 161.8 L800.0 158.9 L809.8 158.9 L816.0 160.6 L823.3 164.3 L829.5 166.0 L825.8 170.4 L827.0 177.8 L832.0 180.8 L836.9 181.5 L837.6 190.1 L835.7 197.5 L834.4 203.7 L830.7 209.8 L827.0 216.0 L832.0 220.9 L838.1 227.0 L844.3 233.2 L846.7 238.1 L844.3 243.0 L836.9 244.3 L833.2 246.2 L828.3 245.5 L823.3 242.3 L816.0 243.0 L812.3 249.2 L809.8 254.1 L809.8 261.5 L807.4 266.4 L800.0 267.6 L792.6 270.1 L785.2 272.6 L781.5 280.0 L775.4 283.6 L772.9 288.6 L777.8 295.9 L777.5 297.4 L777.5 307.2 L768.9 309.7 L765.2 312.1 L762.7 317.1 L761.5 319.5"/>
<path d="M729.1 54.8 L733.0 52.3 L733.5 47.4 L731.1 45.4"/>
</g>
</g>
<circle cx="567.9" cy="429.6" r="5.1" fill="#e8141c" stroke="#000" stroke-width="1"/>
<g stroke="#000" stroke-width="1.1" fill="none">
<rect x="101.6" y="45.5" width="929.9" height="923.8"/>
<line x1="101.6" y1="969.3" x2="101.6" y2="974.3"/>
<line x1="256.6" y1="969.3" x2="256.6" y2="974.3"/>
<line x1="411.6" y1="969.3" x2="411.6" y2="974.3"/>
<line x1="566.5" y1="969.3" x2="566.5" y2="974.3"/>
<line x1="721.5" y1="969.3" x2="721.5" y2="974.3"/>
<line x1="876.5" y1="969.3" x2="876.5" y2="974.3"/>
<line x1="1031.5" y1="969.3" x2="1031.5" y2="974.3"/>
<line x1="96.6" y1="969.3" x2="101.6" y2="969.3"/>
<line x1="96.6" y1="853.8" x2="101.6" y2="853.8"/>
<line x1="96.6" y1="738.3" x2="101.6" y2="738.3"/>
<line x1="96.6" y1="622.9" x2="101.6" y2="622.9"/>
<line x1="96.6" y1="507.4" x2="101.6" y2="507.4"/>
<line x1="96.6" y1="391.9" x2="101.6" y2="391.9"/>
<line x1="96.6" y1="276.4" x2="101.6" y2="276.4"/>
<line x1="96.6" y1="161.0" x2="101.6" y2="161.0"/>
<line x1="96.6" y1="45.5" x2="101.6" y2="45.5"/>
</g>
<text x="88.18 98.20 103.36" y="992.70" font-size="17.50">4.0</text>
<text x="243.33 253.35 258.45" y="992.70" font-size="17.50">4.5</text>
<text x="397.86 407.94 413.10" y="992.70" font-size="17.50">5.0</text>
<text x="553.01 563.09 568.19" y="992.70" font-size="17.50">5.5</text>
<text x="707.94 717.97 723.13" y="992.70" font-size="17.50">6.0</text>
<text x="863.09 873.12 878.22" y="992.70" font-size="17.50">6.5</text>
<text x="1017.78 1027.84 1033.00" y="992.70" font-size="17.50">7.0</text>
<text x="45.17 55.29 65.32 70.45 80.55" y="975.70" font-size="17.50">48.75</text>
<text x="44.83 54.91 64.98 70.15 80.27" y="860.22" font-size="17.50">49.00</text>
<text x="45.17 55.24 65.32 70.27 80.55" y="744.75" font-size="17.50">49.25</text>
<text x="44.83 54.91 64.98 70.09 80.27" y="629.27" font-size="17.50">49.50</text>
<text x="45.17 55.24 65.32 70.45 80.55" y="513.80" font-size="17.50">49.75</text>
<text x="44.77 54.96 64.98 70.15 80.27" y="398.32" font-size="17.50">50.00</text>
<text x="45.11 55.29 65.32 70.27 80.55" y="282.85" font-size="17.50">50.25</text>
<text x="44.77 54.96 64.98 70.09 80.27" y="167.38" font-size="17.50">50.50</text>
<text x="45.11 55.29 65.32 70.45 80.55" y="51.90" font-size="17.50">50.75</text>
<text x="491.39 507.11 524.03 541.49 559.32 567.74 577.94 595.51 613.15" y="1024.60" font-size="29.53">Longitude</text>
<text transform="translate(34.60 564.00) rotate(-90)" x="-2.72 11.69 30.52 40.60 48.86 58.80 76.06 93.38" y="0.00" font-size="29.53">Latitude</text>
<text x="303.38 325.51 347.15 358.39 380.47 402.35 413.32 435.86 457.48 479.89 484.89 512.95 535.22 557.26 569.00 590.95 595.95 623.54 628.54 647.56 669.84 691.88 703.61 725.69 730.69 757.42 782.78 803.24" y="38.00" font-size="36.91">03.11.2025 18:45 - 18:48 UTC</text>
<rect x="107.4" y="51.9" width="266.3" height="49.2" fill="#fff" stroke="#000" stroke-width="1.2"/>
<text x="111.87 123.34 129.31 139.26 149.93 160.15 170.15 176.29 181.29 186.71 200.86 212.03 221.80 226.89 242.70 253.77 258.77 274.23 286.42 296.40 301.95 306.49 316.49 326.49 332.63 337.43 347.17 352.22 358.52" y="70.90" font-size="17.72">Product: Maximum Reflectivity</text>
<text x="112.51 124.85 136.27 141.59 152.61 157.61 162.83 174.57 189.13 193.83" y="92.00" font-size="17.72">Data: RMIB</text>
<g shape-rendering="crispEdges">
<rect x="1089.6" y="893.59" width="40.8" height="30.21" fill="#6477a8"/>
<rect x="1089.6" y="863.88" width="40.8" height="30.21" fill="#5469a6"/>
<rect x="1089.6" y="834.17" width="40.8" height="30.21" fill="#4560a5"/>
<rect x="1089.6" y="804.46" width="40.8" height="30.21" fill="#4c7db5"/>
<rect x="1089.6" y="774.75" width="40.8" height="30.21" fill="#589fc8"/>
<rect x="1089.6" y="745.04" width="40.8" height="30.21" fill="#63c1dc"/>
<rect x="1089.6" y="715.32" width="40.8" height="30.21" fill="#63d6c3"/>
<rect x="1089.6" y="685.61" width="40.8" height="30.21" fill="#40d56d"/>
<rect x="1089.6" y="655.90" width="40.8" height="30.21" fill="#12c61d"/>
<rect x="1089.6" y="626.19" width="40.8" height="30.21" fill="#12b41c"/>
<rect x="1089.6" y="596.48" width="40.8" height="30.21" fill="#11a21a"/>
<rect x="1089.6" y="566.77" width="40.8" height="30.21" fill="#0f8f18"/>
<rect x="1089.6" y="537.06" width="40.8" height="30.21" fill="#0c7714"/>
<rect x="1089.6" y="507.35" width="40.8" height="30.21" fill="#0a5f10"/>
<rect x="1089.6" y="477.64" width="40.8" height="30.21" fill="#467b0c"/>
<rect x="1089.6" y="447.93" width="40.8" height="30.21" fill="#acad09"/>
<rect x="1089.6" y="418.22" width="40.8" height="30.21" fill="#fdd607"/>
<rect x="1089.6" y="388.51" width="40.8" height="30.21" fill="#fdb805"/>
<rect x="1089.6" y="358.80" width="40.8" height="30.21" fill="#fe9a05"/>
<rect x="1089.6" y="329.09" width="40.8" height="30.21" fill="#fe7d05"/>
<rect x="1089.6" y="299.38" width="40.8" height="30.21" fill="#e30303"/>
<rect x="1089.6" y="269.66" width="40.8" height="30.21" fill="#c20303"/>
<rect x="1089.6" y="239.95" width="40.8" height="30.21" fill="#a10202"/>
<rect x="1089.6" y="210.24" width="40.8" height="30.21" fill="#800202"/>
<rect x="1089.6" y="180.53" width="40.8" height="30.21" fill="#ffdcff"/>
<rect x="1089.6" y="150.82" width="40.8" height="30.21" fill="#ffaefc"/>
<rect x="1089.6" y="121.11" width="40.8" height="30.21" fill="#ff64f8"/>
<rect x="1089.6" y="91.40" width="40.8" height="30.21" fill="#ec32ec"/>
</g>
<g stroke="#000" stroke-width="1.1" fill="none">
<rect x="1089.6" y="91.4" width="40.8" height="831.9"/>
<line x1="1130.4" y1="923.3" x2="1135.4" y2="923.3"/>
<line x1="1130.4" y1="804.5" x2="1135.4" y2="804.5"/>
<line x1="1130.4" y1="685.6" x2="1135.4" y2="685.6"/>
<line x1="1130.4" y1="566.8" x2="1135.4" y2="566.8"/>
<line x1="1130.4" y1="447.9" x2="1135.4" y2="447.9"/>
<line x1="1130.4" y1="329.1" x2="1135.4" y2="329.1"/>
<line x1="1130.4" y1="210.2" x2="1135.4" y2="210.2"/>
<line x1="1130.4" y1="91.4" x2="1135.4" y2="91.4"/>
</g>
<text x="1141.64" y="934.00" font-size="29.53">0</text>
<text x="1141.49 1159.31" y="815.16" font-size="29.53">10</text>
<text x="1141.27 1159.31" y="696.31" font-size="29.53">20</text>
<text x="1141.68 1159.31" y="577.47" font-size="29.53">30</text>
<text x="1141.64 1159.31" y="458.63" font-size="29.53">40</text>
<text x="1141.53 1159.31" y="339.79" font-size="29.53">50</text>
<text x="1141.64 1159.31" y="220.94" font-size="29.53">60</text>
<text x="1141.58 1159.31" y="102.10" font-size="29.53">70</text>
<text transform="translate(1204.50 535.10) rotate(-90)" x="-1.22 15.22 34.77" y="0.00" font-size="29.53">dBZ</text>
</svg></body></html>
